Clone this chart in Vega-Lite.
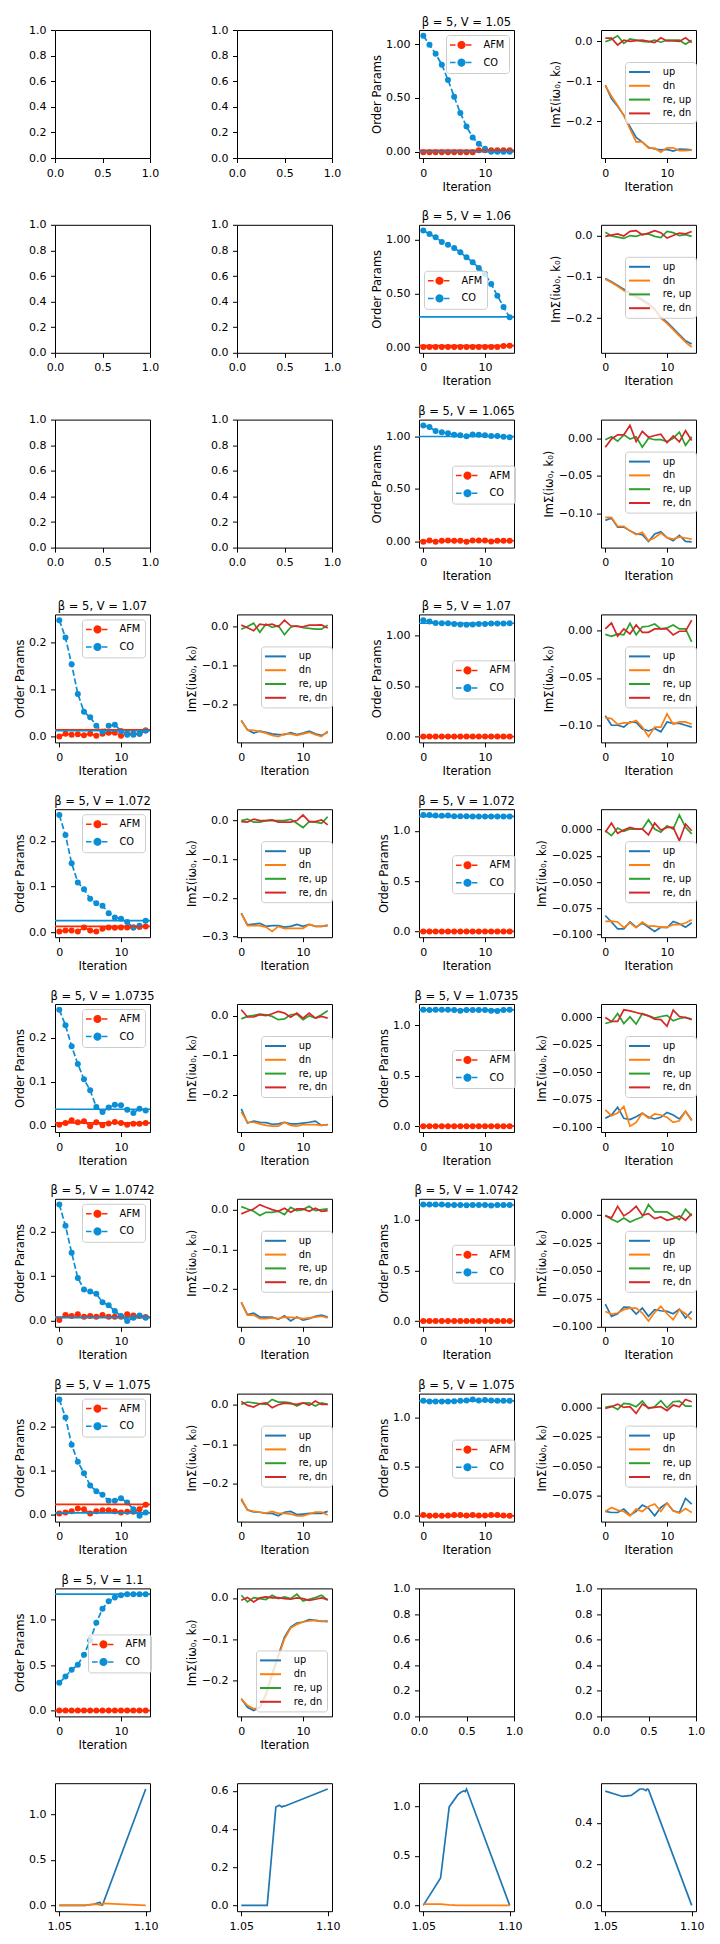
{
"$schema":"https://vega.github.io/schema/vega-lite/v6.json",
"padding":{"left":13,"top":16,"right":5,"bottom":5},
"columns":4,
"spacing":{"row":66.8,"column":87},
"bounds":"flush",
"resolve":{"scale":{"x":"independent","y":"independent","color":"independent"},"legend":{"color":"independent"}},
"config":{
"font":"DejaVu Sans",
"view":{"continuousWidth":95,"continuousHeight":128,"stroke":"#000000","strokeWidth":1},
"axis":{"domain":false,"grid":false,"tickColor":"#000","tickSize":4.5,"tickWidth":1,"labelColor":"#000","labelFont":"DejaVu Sans","labelFontSize":11,"labelPadding":4.5,"labelFlush":false,"labelOverlap":false,"titleColor":"#000","titleFont":"DejaVu Sans","titleFontSize":11.5,"titleFontWeight":"normal"},
"axisX":{"titlePadding":3},
"axisY":{"titlePadding":3.5},
"title":{"font":"DejaVu Sans","fontSize":11.5,"fontWeight":"normal","color":"#000","offset":2,"anchor":"middle"},
"legend":{"labelFont":"DejaVu Sans","labelFontSize":9.8,"labelColor":"#000","fillColor":"rgba(255,255,255,0.8)","strokeColor":"#cccccc","cornerRadius":3,"padding":4,"offset":5,"direction":"vertical","symbolType":"M-2.1,0H2.1","symbolSize":100,"symbolStrokeWidth":2,"symbolOffset":4.5,"labelOffset":17.3,"rowPadding":2.8}
},
"datasets":{
"e":[{"x":0,"y":0}],
"oh":[
{"p":"o0","s":"AFM","y":0.013},{"p":"o0","s":"CO","y":0},
{"p":"o1","s":"AFM","y":0.012},{"p":"o1","s":"CO","y":0.28},
{"p":"o2","s":"AFM","y":0.005},{"p":"o2","s":"CO","y":1.0},
{"p":"o3","s":"AFM","y":0.0145},{"p":"o3","s":"CO","y":0.0125},
{"p":"o4","s":"AFM","y":0},{"p":"o4","s":"CO","y":1.118},
{"p":"o5","s":"AFM","y":0.0124},{"p":"o5","s":"CO","y":0.025},
{"p":"o6","s":"AFM","y":0},{"p":"o6","s":"CO","y":1.145},
{"p":"o7","s":"AFM","y":0.006},{"p":"o7","s":"CO","y":0.037},
{"p":"o8","s":"AFM","y":0},{"p":"o8","s":"CO","y":1.155},
{"p":"o9","s":"AFM","y":0.0075},{"p":"o9","s":"CO","y":0.006},
{"p":"o10","s":"AFM","y":0},{"p":"o10","s":"CO","y":1.148},
{"p":"o11","s":"AFM","y":0.023},{"p":"o11","s":"CO","y":0.0035},
{"p":"o12","s":"AFM","y":0},{"p":"o12","s":"CO","y":1.175},
{"p":"o13","s":"AFM","y":0},{"p":"o13","s":"CO","y":1.28}
],
"op":[
{"p":"o0","s":"AFM","x":0,"y":-0.004},{"p":"o0","s":"AFM","x":1,"y":-0.004},{"p":"o0","s":"AFM","x":2,"y":-0.004},{"p":"o0","s":"AFM","x":3,"y":-0.004},{"p":"o0","s":"AFM","x":4,"y":-0.004},{"p":"o0","s":"AFM","x":5,"y":-0.004},{"p":"o0","s":"AFM","x":6,"y":-0.004},{"p":"o0","s":"AFM","x":7,"y":-0.004},{"p":"o0","s":"AFM","x":8,"y":-0.004},{"p":"o0","s":"AFM","x":9,"y":0.013},{"p":"o0","s":"AFM","x":10,"y":0.013},{"p":"o0","s":"AFM","x":11,"y":0.013},{"p":"o0","s":"AFM","x":12,"y":0.013},{"p":"o0","s":"AFM","x":13,"y":0.013},{"p":"o0","s":"AFM","x":14,"y":0.013},
{"p":"o0","s":"CO","x":0,"y":1.077},{"p":"o0","s":"CO","x":1,"y":0.994},{"p":"o0","s":"CO","x":2,"y":0.91},{"p":"o0","s":"CO","x":3,"y":0.809},{"p":"o0","s":"CO","x":4,"y":0.667},{"p":"o0","s":"CO","x":5,"y":0.512},{"p":"o0","s":"CO","x":6,"y":0.361},{"p":"o0","s":"CO","x":7,"y":0.235},{"p":"o0","s":"CO","x":8,"y":0.133},{"p":"o0","s":"CO","x":9,"y":0.074},{"p":"o0","s":"CO","x":10,"y":0.028},{"p":"o0","s":"CO","x":11,"y":0},{"p":"o0","s":"CO","x":12,"y":0},{"p":"o0","s":"CO","x":13,"y":0},{"p":"o0","s":"CO","x":14,"y":0},
{"p":"o1","s":"AFM","x":0,"y":0},{"p":"o1","s":"AFM","x":1,"y":0},{"p":"o1","s":"AFM","x":2,"y":0},{"p":"o1","s":"AFM","x":3,"y":0},{"p":"o1","s":"AFM","x":4,"y":0},{"p":"o1","s":"AFM","x":5,"y":0},{"p":"o1","s":"AFM","x":6,"y":0},{"p":"o1","s":"AFM","x":7,"y":0},{"p":"o1","s":"AFM","x":8,"y":0},{"p":"o1","s":"AFM","x":9,"y":0},{"p":"o1","s":"AFM","x":10,"y":0},{"p":"o1","s":"AFM","x":11,"y":0},{"p":"o1","s":"AFM","x":12,"y":0},{"p":"o1","s":"AFM","x":13,"y":0.01},{"p":"o1","s":"AFM","x":14,"y":0.012},
{"p":"o1","s":"CO","x":0,"y":1.084},{"p":"o1","s":"CO","x":1,"y":1.053},{"p":"o1","s":"CO","x":2,"y":1.022},{"p":"o1","s":"CO","x":3,"y":0.978},{"p":"o1","s":"CO","x":4,"y":0.953},{"p":"o1","s":"CO","x":5,"y":0.922},{"p":"o1","s":"CO","x":6,"y":0.882},{"p":"o1","s":"CO","x":7,"y":0.835},{"p":"o1","s":"CO","x":8,"y":0.789},{"p":"o1","s":"CO","x":9,"y":0.736},{"p":"o1","s":"CO","x":10,"y":0.68},{"p":"o1","s":"CO","x":11,"y":0.587},{"p":"o1","s":"CO","x":12,"y":0.478},{"p":"o1","s":"CO","x":13,"y":0.373},{"p":"o1","s":"CO","x":14,"y":0.276},
{"p":"o2","s":"AFM","x":0,"y":-0.005},{"p":"o2","s":"AFM","x":1,"y":0.008},{"p":"o2","s":"AFM","x":2,"y":-0.005},{"p":"o2","s":"AFM","x":3,"y":0.004},{"p":"o2","s":"AFM","x":4,"y":0.008},{"p":"o2","s":"AFM","x":5,"y":0.006},{"p":"o2","s":"AFM","x":6,"y":0.005},{"p":"o2","s":"AFM","x":7,"y":-0.004},{"p":"o2","s":"AFM","x":8,"y":0.007},{"p":"o2","s":"AFM","x":9,"y":0.008},{"p":"o2","s":"AFM","x":10,"y":0.007},{"p":"o2","s":"AFM","x":11,"y":-0.003},{"p":"o2","s":"AFM","x":12,"y":0.004},{"p":"o2","s":"AFM","x":13,"y":0.006},{"p":"o2","s":"AFM","x":14,"y":0.005},
{"p":"o2","s":"CO","x":0,"y":1.106},{"p":"o2","s":"CO","x":1,"y":1.09},{"p":"o2","s":"CO","x":2,"y":1.053},{"p":"o2","s":"CO","x":3,"y":1.04},{"p":"o2","s":"CO","x":4,"y":1.031},{"p":"o2","s":"CO","x":5,"y":1.016},{"p":"o2","s":"CO","x":6,"y":1.013},{"p":"o2","s":"CO","x":7,"y":1.003},{"p":"o2","s":"CO","x":8,"y":1.019},{"p":"o2","s":"CO","x":9,"y":1.016},{"p":"o2","s":"CO","x":10,"y":1.013},{"p":"o2","s":"CO","x":11,"y":1.006},{"p":"o2","s":"CO","x":12,"y":1.006},{"p":"o2","s":"CO","x":13,"y":0.997},{"p":"o2","s":"CO","x":14,"y":0.994},
{"p":"o3","s":"AFM","x":0,"y":0},{"p":"o3","s":"AFM","x":1,"y":0.006},{"p":"o3","s":"AFM","x":2,"y":0.004},{"p":"o3","s":"AFM","x":3,"y":0.005},{"p":"o3","s":"AFM","x":4,"y":0.003},{"p":"o3","s":"AFM","x":5,"y":0.006},{"p":"o3","s":"AFM","x":6,"y":0.002},{"p":"o3","s":"AFM","x":7,"y":0.006},{"p":"o3","s":"AFM","x":8,"y":0.008},{"p":"o3","s":"AFM","x":9,"y":0.008},{"p":"o3","s":"AFM","x":10,"y":0.002},{"p":"o3","s":"AFM","x":11,"y":0.006},{"p":"o3","s":"AFM","x":12,"y":0.006},{"p":"o3","s":"AFM","x":13,"y":0.006},{"p":"o3","s":"AFM","x":14,"y":0.013},
{"p":"o3","s":"CO","x":0,"y":0.248},{"p":"o3","s":"CO","x":1,"y":0.211},{"p":"o3","s":"CO","x":2,"y":0.154},{"p":"o3","s":"CO","x":3,"y":0.091},{"p":"o3","s":"CO","x":4,"y":0.053},{"p":"o3","s":"CO","x":5,"y":0.041},{"p":"o3","s":"CO","x":6,"y":0.023},{"p":"o3","s":"CO","x":7,"y":0.011},{"p":"o3","s":"CO","x":8,"y":0.023},{"p":"o3","s":"CO","x":9,"y":0.025},{"p":"o3","s":"CO","x":10,"y":0.012},{"p":"o3","s":"CO","x":11,"y":0.004},{"p":"o3","s":"CO","x":12,"y":0.004},{"p":"o3","s":"CO","x":13,"y":0.006},{"p":"o3","s":"CO","x":14,"y":0.013},
{"p":"o4","s":"AFM","x":0,"y":0},{"p":"o4","s":"AFM","x":1,"y":0},{"p":"o4","s":"AFM","x":2,"y":0},{"p":"o4","s":"AFM","x":3,"y":0},{"p":"o4","s":"AFM","x":4,"y":0},{"p":"o4","s":"AFM","x":5,"y":0},{"p":"o4","s":"AFM","x":6,"y":0},{"p":"o4","s":"AFM","x":7,"y":0},{"p":"o4","s":"AFM","x":8,"y":0},{"p":"o4","s":"AFM","x":9,"y":0},{"p":"o4","s":"AFM","x":10,"y":0},{"p":"o4","s":"AFM","x":11,"y":0},{"p":"o4","s":"AFM","x":12,"y":0},{"p":"o4","s":"AFM","x":13,"y":0},{"p":"o4","s":"AFM","x":14,"y":0},
{"p":"o4","s":"CO","x":0,"y":1.148},{"p":"o4","s":"CO","x":1,"y":1.134},{"p":"o4","s":"CO","x":2,"y":1.121},{"p":"o4","s":"CO","x":3,"y":1.118},{"p":"o4","s":"CO","x":4,"y":1.118},{"p":"o4","s":"CO","x":5,"y":1.111},{"p":"o4","s":"CO","x":6,"y":1.105},{"p":"o4","s":"CO","x":7,"y":1.102},{"p":"o4","s":"CO","x":8,"y":1.105},{"p":"o4","s":"CO","x":9,"y":1.111},{"p":"o4","s":"CO","x":10,"y":1.111},{"p":"o4","s":"CO","x":11,"y":1.115},{"p":"o4","s":"CO","x":12,"y":1.115},{"p":"o4","s":"CO","x":13,"y":1.115},{"p":"o4","s":"CO","x":14,"y":1.118},
{"p":"o5","s":"AFM","x":0,"y":0.0015},{"p":"o5","s":"AFM","x":1,"y":0.0036},{"p":"o5","s":"AFM","x":2,"y":0.0036},{"p":"o5","s":"AFM","x":3,"y":0.0015},{"p":"o5","s":"AFM","x":4,"y":0.01},{"p":"o5","s":"AFM","x":5,"y":0.0036},{"p":"o5","s":"AFM","x":6,"y":0.0015},{"p":"o5","s":"AFM","x":7,"y":0.0073},{"p":"o5","s":"AFM","x":8,"y":0.01},{"p":"o5","s":"AFM","x":9,"y":0.0095},{"p":"o5","s":"AFM","x":10,"y":0.01},{"p":"o5","s":"AFM","x":11,"y":0.01},{"p":"o5","s":"AFM","x":12,"y":0.01},{"p":"o5","s":"AFM","x":13,"y":0.011},{"p":"o5","s":"AFM","x":14,"y":0.0124},
{"p":"o5","s":"CO","x":0,"y":0.257},{"p":"o5","s":"CO","x":1,"y":0.213},{"p":"o5","s":"CO","x":2,"y":0.151},{"p":"o5","s":"CO","x":3,"y":0.109},{"p":"o5","s":"CO","x":4,"y":0.094},{"p":"o5","s":"CO","x":5,"y":0.073},{"p":"o5","s":"CO","x":6,"y":0.0635},{"p":"o5","s":"CO","x":7,"y":0.058},{"p":"o5","s":"CO","x":8,"y":0.0416},{"p":"o5","s":"CO","x":9,"y":0.032},{"p":"o5","s":"CO","x":10,"y":0.029},{"p":"o5","s":"CO","x":11,"y":0.022},{"p":"o5","s":"CO","x":12,"y":0.01},{"p":"o5","s":"CO","x":13,"y":0.014},{"p":"o5","s":"CO","x":14,"y":0.025},
{"p":"o6","s":"AFM","x":0,"y":0},{"p":"o6","s":"AFM","x":1,"y":0},{"p":"o6","s":"AFM","x":2,"y":0},{"p":"o6","s":"AFM","x":3,"y":0},{"p":"o6","s":"AFM","x":4,"y":0},{"p":"o6","s":"AFM","x":5,"y":0},{"p":"o6","s":"AFM","x":6,"y":0},{"p":"o6","s":"AFM","x":7,"y":0},{"p":"o6","s":"AFM","x":8,"y":0},{"p":"o6","s":"AFM","x":9,"y":0},{"p":"o6","s":"AFM","x":10,"y":0},{"p":"o6","s":"AFM","x":11,"y":0},{"p":"o6","s":"AFM","x":12,"y":0},{"p":"o6","s":"AFM","x":13,"y":0},{"p":"o6","s":"AFM","x":14,"y":0},
{"p":"o6","s":"CO","x":0,"y":1.159},{"p":"o6","s":"CO","x":1,"y":1.159},{"p":"o6","s":"CO","x":2,"y":1.155},{"p":"o6","s":"CO","x":3,"y":1.152},{"p":"o6","s":"CO","x":4,"y":1.155},{"p":"o6","s":"CO","x":5,"y":1.146},{"p":"o6","s":"CO","x":6,"y":1.146},{"p":"o6","s":"CO","x":7,"y":1.146},{"p":"o6","s":"CO","x":8,"y":1.145},{"p":"o6","s":"CO","x":9,"y":1.145},{"p":"o6","s":"CO","x":10,"y":1.145},{"p":"o6","s":"CO","x":11,"y":1.145},{"p":"o6","s":"CO","x":12,"y":1.145},{"p":"o6","s":"CO","x":13,"y":1.145},{"p":"o6","s":"CO","x":14,"y":1.145},
{"p":"o7","s":"AFM","x":0,"y":0.002},{"p":"o7","s":"AFM","x":1,"y":0.006},{"p":"o7","s":"AFM","x":2,"y":0.012},{"p":"o7","s":"AFM","x":3,"y":0.0075},{"p":"o7","s":"AFM","x":4,"y":0.01},{"p":"o7","s":"AFM","x":5,"y":-0.0015},{"p":"o7","s":"AFM","x":6,"y":0.0075},{"p":"o7","s":"AFM","x":7,"y":0.0008},{"p":"o7","s":"AFM","x":8,"y":0.0045},{"p":"o7","s":"AFM","x":9,"y":0.008},{"p":"o7","s":"AFM","x":10,"y":0.006},{"p":"o7","s":"AFM","x":11,"y":0.002},{"p":"o7","s":"AFM","x":12,"y":0.0038},{"p":"o7","s":"AFM","x":13,"y":0.0038},{"p":"o7","s":"AFM","x":14,"y":0.006},
{"p":"o7","s":"CO","x":0,"y":0.263},{"p":"o7","s":"CO","x":1,"y":0.228},{"p":"o7","s":"CO","x":2,"y":0.18},{"p":"o7","s":"CO","x":3,"y":0.14},{"p":"o7","s":"CO","x":4,"y":0.105},{"p":"o7","s":"CO","x":5,"y":0.08},{"p":"o7","s":"CO","x":6,"y":0.042},{"p":"o7","s":"CO","x":7,"y":0.031},{"p":"o7","s":"CO","x":8,"y":0.041},{"p":"o7","s":"CO","x":9,"y":0.047},{"p":"o7","s":"CO","x":10,"y":0.046},{"p":"o7","s":"CO","x":11,"y":0.036},{"p":"o7","s":"CO","x":12,"y":0.0286},{"p":"o7","s":"CO","x":13,"y":0.038},{"p":"o7","s":"CO","x":14,"y":0.034},
{"p":"o8","s":"AFM","x":0,"y":0},{"p":"o8","s":"AFM","x":1,"y":0},{"p":"o8","s":"AFM","x":2,"y":0},{"p":"o8","s":"AFM","x":3,"y":0},{"p":"o8","s":"AFM","x":4,"y":0},{"p":"o8","s":"AFM","x":5,"y":0},{"p":"o8","s":"AFM","x":6,"y":0},{"p":"o8","s":"AFM","x":7,"y":0},{"p":"o8","s":"AFM","x":8,"y":0},{"p":"o8","s":"AFM","x":9,"y":0},{"p":"o8","s":"AFM","x":10,"y":0},{"p":"o8","s":"AFM","x":11,"y":0},{"p":"o8","s":"AFM","x":12,"y":0},{"p":"o8","s":"AFM","x":13,"y":0},{"p":"o8","s":"AFM","x":14,"y":0},
{"p":"o8","s":"CO","x":0,"y":1.155},{"p":"o8","s":"CO","x":1,"y":1.152},{"p":"o8","s":"CO","x":2,"y":1.155},{"p":"o8","s":"CO","x":3,"y":1.155},{"p":"o8","s":"CO","x":4,"y":1.155},{"p":"o8","s":"CO","x":5,"y":1.152},{"p":"o8","s":"CO","x":6,"y":1.145},{"p":"o8","s":"CO","x":7,"y":1.152},{"p":"o8","s":"CO","x":8,"y":1.152},{"p":"o8","s":"CO","x":9,"y":1.152},{"p":"o8","s":"CO","x":10,"y":1.152},{"p":"o8","s":"CO","x":11,"y":1.145},{"p":"o8","s":"CO","x":12,"y":1.142},{"p":"o8","s":"CO","x":13,"y":1.152},{"p":"o8","s":"CO","x":14,"y":1.155},
{"p":"o9","s":"AFM","x":0,"y":0.001},{"p":"o9","s":"AFM","x":1,"y":0.012},{"p":"o9","s":"AFM","x":2,"y":0.01},{"p":"o9","s":"AFM","x":3,"y":0.0135},{"p":"o9","s":"AFM","x":4,"y":0.008},{"p":"o9","s":"AFM","x":5,"y":0.01},{"p":"o9","s":"AFM","x":6,"y":0.008},{"p":"o9","s":"AFM","x":7,"y":0.012},{"p":"o9","s":"AFM","x":8,"y":0.008},{"p":"o9","s":"AFM","x":9,"y":0.008},{"p":"o9","s":"AFM","x":10,"y":0.008},{"p":"o9","s":"AFM","x":11,"y":0.0135},{"p":"o9","s":"AFM","x":12,"y":0.011},{"p":"o9","s":"AFM","x":13,"y":0.01},{"p":"o9","s":"AFM","x":14,"y":0.0075},
{"p":"o9","s":"CO","x":0,"y":0.262},{"p":"o9","s":"CO","x":1,"y":0.214},{"p":"o9","s":"CO","x":2,"y":0.153},{"p":"o9","s":"CO","x":3,"y":0.096},{"p":"o9","s":"CO","x":4,"y":0.07},{"p":"o9","s":"CO","x":5,"y":0.065},{"p":"o9","s":"CO","x":6,"y":0.06},{"p":"o9","s":"CO","x":7,"y":0.041},{"p":"o9","s":"CO","x":8,"y":0.034},{"p":"o9","s":"CO","x":9,"y":0.021},{"p":"o9","s":"CO","x":10,"y":0.01},{"p":"o9","s":"CO","x":11,"y":-0.0015},{"p":"o9","s":"CO","x":12,"y":0.006},{"p":"o9","s":"CO","x":13,"y":0.011},{"p":"o9","s":"CO","x":14,"y":0.006},
{"p":"o10","s":"AFM","x":0,"y":0},{"p":"o10","s":"AFM","x":1,"y":0},{"p":"o10","s":"AFM","x":2,"y":0},{"p":"o10","s":"AFM","x":3,"y":0},{"p":"o10","s":"AFM","x":4,"y":0},{"p":"o10","s":"AFM","x":5,"y":0},{"p":"o10","s":"AFM","x":6,"y":0},{"p":"o10","s":"AFM","x":7,"y":0},{"p":"o10","s":"AFM","x":8,"y":0},{"p":"o10","s":"AFM","x":9,"y":0},{"p":"o10","s":"AFM","x":10,"y":0},{"p":"o10","s":"AFM","x":11,"y":0},{"p":"o10","s":"AFM","x":12,"y":0},{"p":"o10","s":"AFM","x":13,"y":0},{"p":"o10","s":"AFM","x":14,"y":0},
{"p":"o10","s":"CO","x":0,"y":1.152},{"p":"o10","s":"CO","x":1,"y":1.152},{"p":"o10","s":"CO","x":2,"y":1.152},{"p":"o10","s":"CO","x":3,"y":1.152},{"p":"o10","s":"CO","x":4,"y":1.148},{"p":"o10","s":"CO","x":5,"y":1.148},{"p":"o10","s":"CO","x":6,"y":1.148},{"p":"o10","s":"CO","x":7,"y":1.145},{"p":"o10","s":"CO","x":8,"y":1.148},{"p":"o10","s":"CO","x":9,"y":1.148},{"p":"o10","s":"CO","x":10,"y":1.148},{"p":"o10","s":"CO","x":11,"y":1.142},{"p":"o10","s":"CO","x":12,"y":1.148},{"p":"o10","s":"CO","x":13,"y":1.148},{"p":"o10","s":"CO","x":14,"y":1.148},
{"p":"o11","s":"AFM","x":0,"y":0.002},{"p":"o11","s":"AFM","x":1,"y":0.0045},{"p":"o11","s":"AFM","x":2,"y":0.0075},{"p":"o11","s":"AFM","x":3,"y":0.0134},{"p":"o11","s":"AFM","x":4,"y":0.012},{"p":"o11","s":"AFM","x":5,"y":0.002},{"p":"o11","s":"AFM","x":6,"y":0.0075},{"p":"o11","s":"AFM","x":7,"y":0.0097},{"p":"o11","s":"AFM","x":8,"y":0.0097},{"p":"o11","s":"AFM","x":9,"y":0.0075},{"p":"o11","s":"AFM","x":10,"y":0.0045},{"p":"o11","s":"AFM","x":11,"y":0.006},{"p":"o11","s":"AFM","x":12,"y":0.006},{"p":"o11","s":"AFM","x":13,"y":0.012},{"p":"o11","s":"AFM","x":14,"y":0.0224},
{"p":"o11","s":"CO","x":0,"y":0.262},{"p":"o11","s":"CO","x":1,"y":0.221},{"p":"o11","s":"CO","x":2,"y":0.159},{"p":"o11","s":"CO","x":3,"y":0.12},{"p":"o11","s":"CO","x":4,"y":0.094},{"p":"o11","s":"CO","x":5,"y":0.066},{"p":"o11","s":"CO","x":6,"y":0.053},{"p":"o11","s":"CO","x":7,"y":0.045},{"p":"o11","s":"CO","x":8,"y":0.031},{"p":"o11","s":"CO","x":9,"y":0.031},{"p":"o11","s":"CO","x":10,"y":0.037},{"p":"o11","s":"CO","x":11,"y":0.027},{"p":"o11","s":"CO","x":12,"y":0.012},{"p":"o11","s":"CO","x":13,"y":-0.003},{"p":"o11","s":"CO","x":14,"y":0.0045},
{"p":"o12","s":"AFM","x":0,"y":0.007},{"p":"o12","s":"AFM","x":1,"y":0},{"p":"o12","s":"AFM","x":2,"y":0.002},{"p":"o12","s":"AFM","x":3,"y":0},{"p":"o12","s":"AFM","x":4,"y":0.002},{"p":"o12","s":"AFM","x":5,"y":0.007},{"p":"o12","s":"AFM","x":6,"y":0.007},{"p":"o12","s":"AFM","x":7,"y":0.002},{"p":"o12","s":"AFM","x":8,"y":0.007},{"p":"o12","s":"AFM","x":9,"y":0.002},{"p":"o12","s":"AFM","x":10,"y":0.002},{"p":"o12","s":"AFM","x":11,"y":0.007},{"p":"o12","s":"AFM","x":12,"y":0.007},{"p":"o12","s":"AFM","x":13,"y":0.002},{"p":"o12","s":"AFM","x":14,"y":0},
{"p":"o12","s":"CO","x":0,"y":1.175},{"p":"o12","s":"CO","x":1,"y":1.168},{"p":"o12","s":"CO","x":2,"y":1.168},{"p":"o12","s":"CO","x":3,"y":1.168},{"p":"o12","s":"CO","x":4,"y":1.168},{"p":"o12","s":"CO","x":5,"y":1.172},{"p":"o12","s":"CO","x":6,"y":1.175},{"p":"o12","s":"CO","x":7,"y":1.178},{"p":"o12","s":"CO","x":8,"y":1.19},{"p":"o12","s":"CO","x":9,"y":1.178},{"p":"o12","s":"CO","x":10,"y":1.185},{"p":"o12","s":"CO","x":11,"y":1.178},{"p":"o12","s":"CO","x":12,"y":1.175},{"p":"o12","s":"CO","x":13,"y":1.175},{"p":"o12","s":"CO","x":14,"y":1.175},
{"p":"o13","s":"AFM","x":0,"y":0},{"p":"o13","s":"AFM","x":1,"y":0},{"p":"o13","s":"AFM","x":2,"y":0},{"p":"o13","s":"AFM","x":3,"y":0},{"p":"o13","s":"AFM","x":4,"y":0},{"p":"o13","s":"AFM","x":5,"y":0},{"p":"o13","s":"AFM","x":6,"y":0},{"p":"o13","s":"AFM","x":7,"y":0},{"p":"o13","s":"AFM","x":8,"y":0},{"p":"o13","s":"AFM","x":9,"y":0},{"p":"o13","s":"AFM","x":10,"y":0},{"p":"o13","s":"AFM","x":11,"y":0},{"p":"o13","s":"AFM","x":12,"y":0},{"p":"o13","s":"AFM","x":13,"y":0},{"p":"o13","s":"AFM","x":14,"y":0},
{"p":"o13","s":"CO","x":0,"y":0.305},{"p":"o13","s":"CO","x":1,"y":0.375},{"p":"o13","s":"CO","x":2,"y":0.449},{"p":"o13","s":"CO","x":3,"y":0.504},{"p":"o13","s":"CO","x":4,"y":0.614},{"p":"o13","s":"CO","x":5,"y":0.772},{"p":"o13","s":"CO","x":6,"y":0.967},{"p":"o13","s":"CO","x":7,"y":1.121},{"p":"o13","s":"CO","x":8,"y":1.202},{"p":"o13","s":"CO","x":9,"y":1.243},{"p":"o13","s":"CO","x":10,"y":1.268},{"p":"o13","s":"CO","x":11,"y":1.279},{"p":"o13","s":"CO","x":12,"y":1.279},{"p":"o13","s":"CO","x":13,"y":1.279},{"p":"o13","s":"CO","x":14,"y":1.279}
],
"im":[
{"p":"i0","s":"up","x":0,"y":-0.1096},{"p":"i0","s":"up","x":1,"y":-0.143},{"p":"i0","s":"up","x":2,"y":-0.162},{"p":"i0","s":"up","x":3,"y":-0.185},{"p":"i0","s":"up","x":4,"y":-0.213},{"p":"i0","s":"up","x":5,"y":-0.24},{"p":"i0","s":"up","x":6,"y":-0.252},{"p":"i0","s":"up","x":7,"y":-0.265},{"p":"i0","s":"up","x":8,"y":-0.269},{"p":"i0","s":"up","x":9,"y":-0.271},{"p":"i0","s":"up","x":10,"y":-0.27},{"p":"i0","s":"up","x":11,"y":-0.274},{"p":"i0","s":"up","x":12,"y":-0.269},{"p":"i0","s":"up","x":13,"y":-0.27},{"p":"i0","s":"up","x":14,"y":-0.271},
{"p":"i0","s":"dn","x":0,"y":-0.11},{"p":"i0","s":"dn","x":1,"y":-0.137},{"p":"i0","s":"dn","x":2,"y":-0.16},{"p":"i0","s":"dn","x":3,"y":-0.185},{"p":"i0","s":"dn","x":4,"y":-0.219},{"p":"i0","s":"dn","x":5,"y":-0.251},{"p":"i0","s":"dn","x":6,"y":-0.251},{"p":"i0","s":"dn","x":7,"y":-0.267},{"p":"i0","s":"dn","x":8,"y":-0.267},{"p":"i0","s":"dn","x":9,"y":-0.277},{"p":"i0","s":"dn","x":10,"y":-0.266},{"p":"i0","s":"dn","x":11,"y":-0.266},{"p":"i0","s":"dn","x":12,"y":-0.273},{"p":"i0","s":"dn","x":13,"y":-0.273},{"p":"i0","s":"dn","x":14,"y":-0.272},
{"p":"i0","s":"re, up","x":0,"y":-0.001},{"p":"i0","s":"re, up","x":1,"y":0.005},{"p":"i0","s":"re, up","x":2,"y":0.014},{"p":"i0","s":"re, up","x":3,"y":-0.005},{"p":"i0","s":"re, up","x":4,"y":0.006},{"p":"i0","s":"re, up","x":5,"y":0.003},{"p":"i0","s":"re, up","x":6,"y":0},{"p":"i0","s":"re, up","x":7,"y":-0.001},{"p":"i0","s":"re, up","x":8,"y":0.003},{"p":"i0","s":"re, up","x":9,"y":-0.002},{"p":"i0","s":"re, up","x":10,"y":0.003},{"p":"i0","s":"re, up","x":11,"y":0.003},{"p":"i0","s":"re, up","x":12,"y":0.003},{"p":"i0","s":"re, up","x":13,"y":-0.007},{"p":"i0","s":"re, up","x":14,"y":0.003},
{"p":"i0","s":"re, dn","x":0,"y":0.008},{"p":"i0","s":"re, dn","x":1,"y":0.008},{"p":"i0","s":"re, dn","x":2,"y":-0.009},{"p":"i0","s":"re, dn","x":3,"y":0.003},{"p":"i0","s":"re, dn","x":4,"y":0},{"p":"i0","s":"re, dn","x":5,"y":0.002},{"p":"i0","s":"re, dn","x":6,"y":0.003},{"p":"i0","s":"re, dn","x":7,"y":0},{"p":"i0","s":"re, dn","x":8,"y":-0.003},{"p":"i0","s":"re, dn","x":9,"y":0.009},{"p":"i0","s":"re, dn","x":10,"y":0.001},{"p":"i0","s":"re, dn","x":11,"y":0.001},{"p":"i0","s":"re, dn","x":12,"y":0},{"p":"i0","s":"re, dn","x":13,"y":0.009},{"p":"i0","s":"re, dn","x":14,"y":-0.003},
{"p":"i1","s":"up","x":0,"y":-0.104},{"p":"i1","s":"up","x":1,"y":-0.112},{"p":"i1","s":"up","x":2,"y":-0.121},{"p":"i1","s":"up","x":3,"y":-0.13},{"p":"i1","s":"up","x":4,"y":-0.139},{"p":"i1","s":"up","x":5,"y":-0.147},{"p":"i1","s":"up","x":6,"y":-0.155},{"p":"i1","s":"up","x":7,"y":-0.165},{"p":"i1","s":"up","x":8,"y":-0.178},{"p":"i1","s":"up","x":9,"y":-0.198},{"p":"i1","s":"up","x":10,"y":-0.21},{"p":"i1","s":"up","x":11,"y":-0.225},{"p":"i1","s":"up","x":12,"y":-0.24},{"p":"i1","s":"up","x":13,"y":-0.255},{"p":"i1","s":"up","x":14,"y":-0.263},
{"p":"i1","s":"dn","x":0,"y":-0.106},{"p":"i1","s":"dn","x":1,"y":-0.114},{"p":"i1","s":"dn","x":2,"y":-0.123},{"p":"i1","s":"dn","x":3,"y":-0.133},{"p":"i1","s":"dn","x":4,"y":-0.141},{"p":"i1","s":"dn","x":5,"y":-0.149},{"p":"i1","s":"dn","x":6,"y":-0.158},{"p":"i1","s":"dn","x":7,"y":-0.168},{"p":"i1","s":"dn","x":8,"y":-0.18},{"p":"i1","s":"dn","x":9,"y":-0.2},{"p":"i1","s":"dn","x":10,"y":-0.213},{"p":"i1","s":"dn","x":11,"y":-0.228},{"p":"i1","s":"dn","x":12,"y":-0.243},{"p":"i1","s":"dn","x":13,"y":-0.258},{"p":"i1","s":"dn","x":14,"y":-0.27},
{"p":"i1","s":"re, up","x":0,"y":0.008},{"p":"i1","s":"re, up","x":1,"y":-0.001},{"p":"i1","s":"re, up","x":2,"y":-0.004},{"p":"i1","s":"re, up","x":3,"y":-0.007},{"p":"i1","s":"re, up","x":4,"y":0},{"p":"i1","s":"re, up","x":5,"y":-0.002},{"p":"i1","s":"re, up","x":6,"y":0.003},{"p":"i1","s":"re, up","x":7,"y":0.004},{"p":"i1","s":"re, up","x":8,"y":-0.002},{"p":"i1","s":"re, up","x":9,"y":-0.005},{"p":"i1","s":"re, up","x":10,"y":0.01},{"p":"i1","s":"re, up","x":11,"y":0.007},{"p":"i1","s":"re, up","x":12,"y":0},{"p":"i1","s":"re, up","x":13,"y":0.002},{"p":"i1","s":"re, up","x":14,"y":-0.002},
{"p":"i1","s":"re, dn","x":0,"y":-0.002},{"p":"i1","s":"re, dn","x":1,"y":0.001},{"p":"i1","s":"re, dn","x":2,"y":0.004},{"p":"i1","s":"re, dn","x":3,"y":-0.001},{"p":"i1","s":"re, dn","x":4,"y":0.01},{"p":"i1","s":"re, dn","x":5,"y":0.012},{"p":"i1","s":"re, dn","x":6,"y":0.002},{"p":"i1","s":"re, dn","x":7,"y":0.006},{"p":"i1","s":"re, dn","x":8,"y":0.012},{"p":"i1","s":"re, dn","x":9,"y":0.007},{"p":"i1","s":"re, dn","x":10,"y":-0.006},{"p":"i1","s":"re, dn","x":11,"y":0},{"p":"i1","s":"re, dn","x":12,"y":0.006},{"p":"i1","s":"re, dn","x":13,"y":0.004},{"p":"i1","s":"re, dn","x":14,"y":0.01},
{"p":"i2","s":"up","x":0,"y":-0.109},{"p":"i2","s":"up","x":1,"y":-0.106},{"p":"i2","s":"up","x":2,"y":-0.118},{"p":"i2","s":"up","x":3,"y":-0.118},{"p":"i2","s":"up","x":4,"y":-0.123},{"p":"i2","s":"up","x":5,"y":-0.127},{"p":"i2","s":"up","x":6,"y":-0.128},{"p":"i2","s":"up","x":7,"y":-0.137},{"p":"i2","s":"up","x":8,"y":-0.127},{"p":"i2","s":"up","x":9,"y":-0.124},{"p":"i2","s":"up","x":10,"y":-0.132},{"p":"i2","s":"up","x":11,"y":-0.136},{"p":"i2","s":"up","x":12,"y":-0.129},{"p":"i2","s":"up","x":13,"y":-0.137},{"p":"i2","s":"up","x":14,"y":-0.1375},
{"p":"i2","s":"dn","x":0,"y":-0.105},{"p":"i2","s":"dn","x":1,"y":-0.105},{"p":"i2","s":"dn","x":2,"y":-0.117},{"p":"i2","s":"dn","x":3,"y":-0.117},{"p":"i2","s":"dn","x":4,"y":-0.123},{"p":"i2","s":"dn","x":5,"y":-0.128},{"p":"i2","s":"dn","x":6,"y":-0.125},{"p":"i2","s":"dn","x":7,"y":-0.136},{"p":"i2","s":"dn","x":8,"y":-0.132},{"p":"i2","s":"dn","x":9,"y":-0.126},{"p":"i2","s":"dn","x":10,"y":-0.132},{"p":"i2","s":"dn","x":11,"y":-0.134},{"p":"i2","s":"dn","x":12,"y":-0.131},{"p":"i2","s":"dn","x":13,"y":-0.1325},{"p":"i2","s":"dn","x":14,"y":-0.134},
{"p":"i2","s":"re, up","x":0,"y":-0.002},{"p":"i2","s":"re, up","x":1,"y":0.002},{"p":"i2","s":"re, up","x":2,"y":-0.004},{"p":"i2","s":"re, up","x":3,"y":0.0045},{"p":"i2","s":"re, up","x":4,"y":-0.001},{"p":"i2","s":"re, up","x":5,"y":0.002},{"p":"i2","s":"re, up","x":6,"y":-0.012},{"p":"i2","s":"re, up","x":7,"y":0},{"p":"i2","s":"re, up","x":8,"y":-0.002},{"p":"i2","s":"re, up","x":9,"y":-0.002},{"p":"i2","s":"re, up","x":10,"y":-0.0045},{"p":"i2","s":"re, up","x":11,"y":0},{"p":"i2","s":"re, up","x":12,"y":0.008},{"p":"i2","s":"re, up","x":13,"y":-0.0095},{"p":"i2","s":"re, up","x":14,"y":0.002},
{"p":"i2","s":"re, dn","x":0,"y":-0.012},{"p":"i2","s":"re, dn","x":1,"y":-0.001},{"p":"i2","s":"re, dn","x":2,"y":0.0045},{"p":"i2","s":"re, dn","x":3,"y":0.0045},{"p":"i2","s":"re, dn","x":4,"y":0.017},{"p":"i2","s":"re, dn","x":5,"y":-0.0045},{"p":"i2","s":"re, dn","x":6,"y":0.009},{"p":"i2","s":"re, dn","x":7,"y":0.0013},{"p":"i2","s":"re, dn","x":8,"y":0.0036},{"p":"i2","s":"re, dn","x":9,"y":0.0054},{"p":"i2","s":"re, dn","x":10,"y":-0.006},{"p":"i2","s":"re, dn","x":11,"y":0.003},{"p":"i2","s":"re, dn","x":12,"y":-0.005},{"p":"i2","s":"re, dn","x":13,"y":0.01},{"p":"i2","s":"re, dn","x":14,"y":-0.003},
{"p":"i3","s":"up","x":0,"y":-0.241},{"p":"i3","s":"up","x":1,"y":-0.265},{"p":"i3","s":"up","x":2,"y":-0.273},{"p":"i3","s":"up","x":3,"y":-0.268},{"p":"i3","s":"up","x":4,"y":-0.271},{"p":"i3","s":"up","x":5,"y":-0.275},{"p":"i3","s":"up","x":6,"y":-0.277},{"p":"i3","s":"up","x":7,"y":-0.277},{"p":"i3","s":"up","x":8,"y":-0.272},{"p":"i3","s":"up","x":9,"y":-0.277},{"p":"i3","s":"up","x":10,"y":-0.273},{"p":"i3","s":"up","x":11,"y":-0.268},{"p":"i3","s":"up","x":12,"y":-0.275},{"p":"i3","s":"up","x":13,"y":-0.279},{"p":"i3","s":"up","x":14,"y":-0.271},
{"p":"i3","s":"dn","x":0,"y":-0.241},{"p":"i3","s":"dn","x":1,"y":-0.265},{"p":"i3","s":"dn","x":2,"y":-0.266},{"p":"i3","s":"dn","x":3,"y":-0.269},{"p":"i3","s":"dn","x":4,"y":-0.273},{"p":"i3","s":"dn","x":5,"y":-0.279},{"p":"i3","s":"dn","x":6,"y":-0.282},{"p":"i3","s":"dn","x":7,"y":-0.275},{"p":"i3","s":"dn","x":8,"y":-0.275},{"p":"i3","s":"dn","x":9,"y":-0.279},{"p":"i3","s":"dn","x":10,"y":-0.275},{"p":"i3","s":"dn","x":11,"y":-0.271},{"p":"i3","s":"dn","x":12,"y":-0.277},{"p":"i3","s":"dn","x":13,"y":-0.282},{"p":"i3","s":"dn","x":14,"y":-0.268},
{"p":"i3","s":"re, up","x":0,"y":-0.007},{"p":"i3","s":"re, up","x":1,"y":0},{"p":"i3","s":"re, up","x":2,"y":0.0085},{"p":"i3","s":"re, up","x":3,"y":-0.015},{"p":"i3","s":"re, up","x":4,"y":0.006},{"p":"i3","s":"re, up","x":5,"y":-0.0026},{"p":"i3","s":"re, up","x":6,"y":0.0017},{"p":"i3","s":"re, up","x":7,"y":-0.021},{"p":"i3","s":"re, up","x":8,"y":-0.002},{"p":"i3","s":"re, up","x":9,"y":0.0017},{"p":"i3","s":"re, up","x":10,"y":-0.0034},{"p":"i3","s":"re, up","x":11,"y":-0.005},{"p":"i3","s":"re, up","x":12,"y":-0.007},{"p":"i3","s":"re, up","x":13,"y":-0.007},{"p":"i3","s":"re, up","x":14,"y":0.0034},
{"p":"i3","s":"re, dn","x":0,"y":0.0034},{"p":"i3","s":"re, dn","x":1,"y":-0.0034},{"p":"i3","s":"re, dn","x":2,"y":-0.011},{"p":"i3","s":"re, dn","x":3,"y":0.006},{"p":"i3","s":"re, dn","x":4,"y":0.0034},{"p":"i3","s":"re, dn","x":5,"y":0.006},{"p":"i3","s":"re, dn","x":6,"y":-0.001},{"p":"i3","s":"re, dn","x":7,"y":0.016},{"p":"i3","s":"re, dn","x":8,"y":0.0017},{"p":"i3","s":"re, dn","x":9,"y":0},{"p":"i3","s":"re, dn","x":10,"y":-0.001},{"p":"i3","s":"re, dn","x":11,"y":0.0034},{"p":"i3","s":"re, dn","x":12,"y":0.0034},{"p":"i3","s":"re, dn","x":13,"y":0.004},{"p":"i3","s":"re, dn","x":14,"y":-0.004},
{"p":"i4","s":"up","x":0,"y":-0.09},{"p":"i4","s":"up","x":1,"y":-0.1},{"p":"i4","s":"up","x":2,"y":-0.1},{"p":"i4","s":"up","x":3,"y":-0.102},{"p":"i4","s":"up","x":4,"y":-0.0965},{"p":"i4","s":"up","x":5,"y":-0.097},{"p":"i4","s":"up","x":6,"y":-0.104},{"p":"i4","s":"up","x":7,"y":-0.106},{"p":"i4","s":"up","x":8,"y":-0.1035},{"p":"i4","s":"up","x":9,"y":-0.107},{"p":"i4","s":"up","x":10,"y":-0.0965},{"p":"i4","s":"up","x":11,"y":-0.098},{"p":"i4","s":"up","x":12,"y":-0.098},{"p":"i4","s":"up","x":13,"y":-0.1},{"p":"i4","s":"up","x":14,"y":-0.102},
{"p":"i4","s":"dn","x":0,"y":-0.092},{"p":"i4","s":"dn","x":1,"y":-0.093},{"p":"i4","s":"dn","x":2,"y":-0.099},{"p":"i4","s":"dn","x":3,"y":-0.0975},{"p":"i4","s":"dn","x":4,"y":-0.0975},{"p":"i4","s":"dn","x":5,"y":-0.095},{"p":"i4","s":"dn","x":6,"y":-0.102},{"p":"i4","s":"dn","x":7,"y":-0.112},{"p":"i4","s":"dn","x":8,"y":-0.102},{"p":"i4","s":"dn","x":9,"y":-0.102},{"p":"i4","s":"dn","x":10,"y":-0.088},{"p":"i4","s":"dn","x":11,"y":-0.099},{"p":"i4","s":"dn","x":12,"y":-0.0965},{"p":"i4","s":"dn","x":13,"y":-0.0965},{"p":"i4","s":"dn","x":14,"y":-0.099},
{"p":"i4","s":"re, up","x":0,"y":-0.004},{"p":"i4","s":"re, up","x":1,"y":-0.006},{"p":"i4","s":"re, up","x":2,"y":-0.0035},{"p":"i4","s":"re, up","x":3,"y":-0.0045},{"p":"i4","s":"re, up","x":4,"y":0.0077},{"p":"i4","s":"re, up","x":5,"y":-0.0045},{"p":"i4","s":"re, up","x":6,"y":0.004},{"p":"i4","s":"re, up","x":7,"y":0.0046},{"p":"i4","s":"re, up","x":8,"y":0.007},{"p":"i4","s":"re, up","x":9,"y":0.0018},{"p":"i4","s":"re, up","x":10,"y":0.0028},{"p":"i4","s":"re, up","x":11,"y":0.006},{"p":"i4","s":"re, up","x":12,"y":0.0018},{"p":"i4","s":"re, up","x":13,"y":0.0018},{"p":"i4","s":"re, up","x":14,"y":-0.012},
{"p":"i4","s":"re, dn","x":0,"y":0.0018},{"p":"i4","s":"re, dn","x":1,"y":0.008},{"p":"i4","s":"re, dn","x":2,"y":-0.006},{"p":"i4","s":"re, dn","x":3,"y":0.0018},{"p":"i4","s":"re, dn","x":4,"y":-0.0035},{"p":"i4","s":"re, dn","x":5,"y":0.006},{"p":"i4","s":"re, dn","x":6,"y":-0.0018},{"p":"i4","s":"re, dn","x":7,"y":-0.0018},{"p":"i4","s":"re, dn","x":8,"y":0.0018},{"p":"i4","s":"re, dn","x":9,"y":0.0018},{"p":"i4","s":"re, dn","x":10,"y":0.0018},{"p":"i4","s":"re, dn","x":11,"y":-0.0045},{"p":"i4","s":"re, dn","x":12,"y":-0.0007},{"p":"i4","s":"re, dn","x":13,"y":-0.0007},{"p":"i4","s":"re, dn","x":14,"y":0.011},
{"p":"i5","s":"up","x":0,"y":-0.24},{"p":"i5","s":"up","x":1,"y":-0.27},{"p":"i5","s":"up","x":2,"y":-0.268},{"p":"i5","s":"up","x":3,"y":-0.266},{"p":"i5","s":"up","x":4,"y":-0.274},{"p":"i5","s":"up","x":5,"y":-0.272},{"p":"i5","s":"up","x":6,"y":-0.272},{"p":"i5","s":"up","x":7,"y":-0.276},{"p":"i5","s":"up","x":8,"y":-0.274},{"p":"i5","s":"up","x":9,"y":-0.269},{"p":"i5","s":"up","x":10,"y":-0.274},{"p":"i5","s":"up","x":11,"y":-0.269},{"p":"i5","s":"up","x":12,"y":-0.274},{"p":"i5","s":"up","x":13,"y":-0.274},{"p":"i5","s":"up","x":14,"y":-0.272},
{"p":"i5","s":"dn","x":0,"y":-0.24},{"p":"i5","s":"dn","x":1,"y":-0.272},{"p":"i5","s":"dn","x":2,"y":-0.272},{"p":"i5","s":"dn","x":3,"y":-0.272},{"p":"i5","s":"dn","x":4,"y":-0.276},{"p":"i5","s":"dn","x":5,"y":-0.287},{"p":"i5","s":"dn","x":6,"y":-0.274},{"p":"i5","s":"dn","x":7,"y":-0.28},{"p":"i5","s":"dn","x":8,"y":-0.279},{"p":"i5","s":"dn","x":9,"y":-0.279},{"p":"i5","s":"dn","x":10,"y":-0.279},{"p":"i5","s":"dn","x":11,"y":-0.269},{"p":"i5","s":"dn","x":12,"y":-0.274},{"p":"i5","s":"dn","x":13,"y":-0.274},{"p":"i5","s":"dn","x":14,"y":-0.27},
{"p":"i5","s":"re, up","x":0,"y":0},{"p":"i5","s":"re, up","x":1,"y":0.004},{"p":"i5","s":"re, up","x":2,"y":-0.004},{"p":"i5","s":"re, up","x":3,"y":-0.004},{"p":"i5","s":"re, up","x":4,"y":0},{"p":"i5","s":"re, up","x":5,"y":0},{"p":"i5","s":"re, up","x":6,"y":0},{"p":"i5","s":"re, up","x":7,"y":0},{"p":"i5","s":"re, up","x":8,"y":0.0034},{"p":"i5","s":"re, up","x":9,"y":-0.007},{"p":"i5","s":"re, up","x":10,"y":-0.018},{"p":"i5","s":"re, up","x":11,"y":-0.0026},{"p":"i5","s":"re, up","x":12,"y":-0.004},{"p":"i5","s":"re, up","x":13,"y":-0.007},{"p":"i5","s":"re, up","x":14,"y":0.01},
{"p":"i5","s":"re, dn","x":0,"y":-0.0026},{"p":"i5","s":"re, dn","x":1,"y":-0.004},{"p":"i5","s":"re, dn","x":2,"y":0.004},{"p":"i5","s":"re, dn","x":3,"y":0},{"p":"i5","s":"re, dn","x":4,"y":0},{"p":"i5","s":"re, dn","x":5,"y":0.0017},{"p":"i5","s":"re, dn","x":6,"y":-0.004},{"p":"i5","s":"re, dn","x":7,"y":-0.004},{"p":"i5","s":"re, dn","x":8,"y":-0.004},{"p":"i5","s":"re, dn","x":9,"y":0},{"p":"i5","s":"re, dn","x":10,"y":0.0145},{"p":"i5","s":"re, dn","x":11,"y":-0.0026},{"p":"i5","s":"re, dn","x":12,"y":-0.0026},{"p":"i5","s":"re, dn","x":13,"y":0.0017},{"p":"i5","s":"re, dn","x":14,"y":-0.011},
{"p":"i6","s":"up","x":0,"y":-0.0818},{"p":"i6","s":"up","x":1,"y":-0.088},{"p":"i6","s":"up","x":2,"y":-0.0945},{"p":"i6","s":"up","x":3,"y":-0.0945},{"p":"i6","s":"up","x":4,"y":-0.088},{"p":"i6","s":"up","x":5,"y":-0.093},{"p":"i6","s":"up","x":6,"y":-0.089},{"p":"i6","s":"up","x":7,"y":-0.093},{"p":"i6","s":"up","x":8,"y":-0.097},{"p":"i6","s":"up","x":9,"y":-0.093},{"p":"i6","s":"up","x":10,"y":-0.0935},{"p":"i6","s":"up","x":11,"y":-0.0875},{"p":"i6","s":"up","x":12,"y":-0.0897},{"p":"i6","s":"up","x":13,"y":-0.093},{"p":"i6","s":"up","x":14,"y":-0.0888},
{"p":"i6","s":"dn","x":0,"y":-0.0875},{"p":"i6","s":"dn","x":1,"y":-0.0872},{"p":"i6","s":"dn","x":2,"y":-0.088},{"p":"i6","s":"dn","x":3,"y":-0.0935},{"p":"i6","s":"dn","x":4,"y":-0.0888},{"p":"i6","s":"dn","x":5,"y":-0.0935},{"p":"i6","s":"dn","x":6,"y":-0.088},{"p":"i6","s":"dn","x":7,"y":-0.092},{"p":"i6","s":"dn","x":8,"y":-0.092},{"p":"i6","s":"dn","x":9,"y":-0.093},{"p":"i6","s":"dn","x":10,"y":-0.093},{"p":"i6","s":"dn","x":11,"y":-0.0906},{"p":"i6","s":"dn","x":12,"y":-0.0906},{"p":"i6","s":"dn","x":13,"y":-0.089},{"p":"i6","s":"dn","x":14,"y":-0.086},
{"p":"i6","s":"re, up","x":0,"y":-0.001},{"p":"i6","s":"re, up","x":1,"y":-0.0057},{"p":"i6","s":"re, up","x":2,"y":0.0016},{"p":"i6","s":"re, up","x":3,"y":-0.0016},{"p":"i6","s":"re, up","x":4,"y":0.0006},{"p":"i6","s":"re, up","x":5,"y":0.0006},{"p":"i6","s":"re, up","x":6,"y":0.0006},{"p":"i6","s":"re, up","x":7,"y":0.0095},{"p":"i6","s":"re, up","x":8,"y":0.0006},{"p":"i6","s":"re, up","x":9,"y":-0.0025},{"p":"i6","s":"re, up","x":10,"y":0.0038},{"p":"i6","s":"re, up","x":11,"y":0.0006},{"p":"i6","s":"re, up","x":12,"y":0.014},{"p":"i6","s":"re, up","x":13,"y":0.0022},{"p":"i6","s":"re, up","x":14,"y":-0.004},
{"p":"i6","s":"re, dn","x":0,"y":-0.0025},{"p":"i6","s":"re, dn","x":1,"y":0.0063},{"p":"i6","s":"re, dn","x":2,"y":-0.0035},{"p":"i6","s":"re, dn","x":3,"y":-0.0003},{"p":"i6","s":"re, dn","x":4,"y":0.0022},{"p":"i6","s":"re, dn","x":5,"y":0.0006},{"p":"i6","s":"re, dn","x":6,"y":0.0006},{"p":"i6","s":"re, dn","x":7,"y":-0.005},{"p":"i6","s":"re, dn","x":8,"y":0.0063},{"p":"i6","s":"re, dn","x":9,"y":-0.0003},{"p":"i6","s":"re, dn","x":10,"y":0.0022},{"p":"i6","s":"re, dn","x":11,"y":0.0022},{"p":"i6","s":"re, dn","x":12,"y":-0.0105},{"p":"i6","s":"re, dn","x":13,"y":0.0054},{"p":"i6","s":"re, dn","x":14,"y":-0.001},
{"p":"i7","s":"up","x":0,"y":-0.236},{"p":"i7","s":"up","x":1,"y":-0.272},{"p":"i7","s":"up","x":2,"y":-0.267},{"p":"i7","s":"up","x":3,"y":-0.27},{"p":"i7","s":"up","x":4,"y":-0.271},{"p":"i7","s":"up","x":5,"y":-0.275},{"p":"i7","s":"up","x":6,"y":-0.274},{"p":"i7","s":"up","x":7,"y":-0.27},{"p":"i7","s":"up","x":8,"y":-0.274},{"p":"i7","s":"up","x":9,"y":-0.274},{"p":"i7","s":"up","x":10,"y":-0.272},{"p":"i7","s":"up","x":11,"y":-0.27},{"p":"i7","s":"up","x":12,"y":-0.267},{"p":"i7","s":"up","x":13,"y":-0.278},{"p":"i7","s":"up","x":14,"y":-0.276},
{"p":"i7","s":"dn","x":0,"y":-0.244},{"p":"i7","s":"dn","x":1,"y":-0.27},{"p":"i7","s":"dn","x":2,"y":-0.27},{"p":"i7","s":"dn","x":3,"y":-0.274},{"p":"i7","s":"dn","x":4,"y":-0.278},{"p":"i7","s":"dn","x":5,"y":-0.28},{"p":"i7","s":"dn","x":6,"y":-0.28},{"p":"i7","s":"dn","x":7,"y":-0.27},{"p":"i7","s":"dn","x":8,"y":-0.278},{"p":"i7","s":"dn","x":9,"y":-0.28},{"p":"i7","s":"dn","x":10,"y":-0.276},{"p":"i7","s":"dn","x":11,"y":-0.276},{"p":"i7","s":"dn","x":12,"y":-0.276},{"p":"i7","s":"dn","x":13,"y":-0.278},{"p":"i7","s":"dn","x":14,"y":-0.276},
{"p":"i7","s":"re, up","x":0,"y":-0.008},{"p":"i7","s":"re, up","x":1,"y":-0.0017},{"p":"i7","s":"re, up","x":2,"y":0.0008},{"p":"i7","s":"re, up","x":3,"y":0.004},{"p":"i7","s":"re, up","x":4,"y":0.0025},{"p":"i7","s":"re, up","x":5,"y":-0.0017},{"p":"i7","s":"re, up","x":6,"y":-0.01},{"p":"i7","s":"re, up","x":7,"y":-0.008},{"p":"i7","s":"re, up","x":8,"y":0.0025},{"p":"i7","s":"re, up","x":9,"y":0.004},{"p":"i7","s":"re, up","x":10,"y":-0.01},{"p":"i7","s":"re, up","x":11,"y":0},{"p":"i7","s":"re, up","x":12,"y":-0.006},{"p":"i7","s":"re, up","x":13,"y":0.0025},{"p":"i7","s":"re, up","x":14,"y":0.0125},
{"p":"i7","s":"re, dn","x":0,"y":0.015},{"p":"i7","s":"re, dn","x":1,"y":-0.0033},{"p":"i7","s":"re, dn","x":2,"y":-0.0033},{"p":"i7","s":"re, dn","x":3,"y":0.0025},{"p":"i7","s":"re, dn","x":4,"y":0},{"p":"i7","s":"re, dn","x":5,"y":0.005},{"p":"i7","s":"re, dn","x":6,"y":0.011},{"p":"i7","s":"re, dn","x":7,"y":0.0067},{"p":"i7","s":"re, dn","x":8,"y":-0.004},{"p":"i7","s":"re, dn","x":9,"y":0.0067},{"p":"i7","s":"re, dn","x":10,"y":-0.006},{"p":"i7","s":"re, dn","x":11,"y":0.0067},{"p":"i7","s":"re, dn","x":12,"y":-0.006},{"p":"i7","s":"re, dn","x":13,"y":-0.0017},{"p":"i7","s":"re, dn","x":14,"y":-0.006},
{"p":"i8","s":"up","x":0,"y":-0.0918},{"p":"i8","s":"up","x":1,"y":-0.0888},{"p":"i8","s":"up","x":2,"y":-0.0818},{"p":"i8","s":"up","x":3,"y":-0.0918},{"p":"i8","s":"up","x":4,"y":-0.093},{"p":"i8","s":"up","x":5,"y":-0.0903},{"p":"i8","s":"up","x":6,"y":-0.0873},{"p":"i8","s":"up","x":7,"y":-0.0909},{"p":"i8","s":"up","x":8,"y":-0.0924},{"p":"i8","s":"up","x":9,"y":-0.0909},{"p":"i8","s":"up","x":10,"y":-0.0864},{"p":"i8","s":"up","x":11,"y":-0.0888},{"p":"i8","s":"up","x":12,"y":-0.0924},{"p":"i8","s":"up","x":13,"y":-0.0855},{"p":"i8","s":"up","x":14,"y":-0.0933},
{"p":"i8","s":"dn","x":0,"y":-0.0842},{"p":"i8","s":"dn","x":1,"y":-0.0894},{"p":"i8","s":"dn","x":2,"y":-0.087},{"p":"i8","s":"dn","x":3,"y":-0.0809},{"p":"i8","s":"dn","x":4,"y":-0.099},{"p":"i8","s":"dn","x":5,"y":-0.0955},{"p":"i8","s":"dn","x":6,"y":-0.087},{"p":"i8","s":"dn","x":7,"y":-0.0918},{"p":"i8","s":"dn","x":8,"y":-0.0879},{"p":"i8","s":"dn","x":9,"y":-0.0888},{"p":"i8","s":"dn","x":10,"y":-0.0909},{"p":"i8","s":"dn","x":11,"y":-0.0955},{"p":"i8","s":"dn","x":12,"y":-0.094},{"p":"i8","s":"dn","x":13,"y":-0.0855},{"p":"i8","s":"dn","x":14,"y":-0.094},
{"p":"i8","s":"re, up","x":0,"y":-0.0055},{"p":"i8","s":"re, up","x":1,"y":-0.004},{"p":"i8","s":"re, up","x":2,"y":0.0036},{"p":"i8","s":"re, up","x":3,"y":-0.0055},{"p":"i8","s":"re, up","x":4,"y":0.0006},{"p":"i8","s":"re, up","x":5,"y":-0.006},{"p":"i8","s":"re, up","x":6,"y":0.0036},{"p":"i8","s":"re, up","x":7,"y":0.0015},{"p":"i8","s":"re, up","x":8,"y":-0.0006},{"p":"i8","s":"re, up","x":9,"y":0.0009},{"p":"i8","s":"re, up","x":10,"y":0.002},{"p":"i8","s":"re, up","x":11,"y":-0.003},{"p":"i8","s":"re, up","x":12,"y":-0.0009},{"p":"i8","s":"re, up","x":13,"y":0},{"p":"i8","s":"re, up","x":14,"y":-0.0015},
{"p":"i8","s":"re, dn","x":0,"y":0},{"p":"i8","s":"re, dn","x":1,"y":-0.0036},{"p":"i8","s":"re, dn","x":2,"y":-0.0036},{"p":"i8","s":"re, dn","x":3,"y":0.007},{"p":"i8","s":"re, dn","x":4,"y":0.006},{"p":"i8","s":"re, dn","x":5,"y":0.0045},{"p":"i8","s":"re, dn","x":6,"y":0.003},{"p":"i8","s":"re, dn","x":7,"y":0.0015},{"p":"i8","s":"re, dn","x":8,"y":-0.0015},{"p":"i8","s":"re, dn","x":9,"y":-0.002},{"p":"i8","s":"re, dn","x":10,"y":-0.008},{"p":"i8","s":"re, dn","x":11,"y":0.0067},{"p":"i8","s":"re, dn","x":12,"y":0.0009},{"p":"i8","s":"re, dn","x":13,"y":0},{"p":"i8","s":"re, dn","x":14,"y":-0.002},
{"p":"i9","s":"up","x":0,"y":-0.235},{"p":"i9","s":"up","x":1,"y":-0.266},{"p":"i9","s":"up","x":2,"y":-0.262},{"p":"i9","s":"up","x":3,"y":-0.272},{"p":"i9","s":"up","x":4,"y":-0.272},{"p":"i9","s":"up","x":5,"y":-0.272},{"p":"i9","s":"up","x":6,"y":-0.278},{"p":"i9","s":"up","x":7,"y":-0.269},{"p":"i9","s":"up","x":8,"y":-0.282},{"p":"i9","s":"up","x":9,"y":-0.272},{"p":"i9","s":"up","x":10,"y":-0.28},{"p":"i9","s":"up","x":11,"y":-0.276},{"p":"i9","s":"up","x":12,"y":-0.27},{"p":"i9","s":"up","x":13,"y":-0.267},{"p":"i9","s":"up","x":14,"y":-0.272},
{"p":"i9","s":"dn","x":0,"y":-0.235},{"p":"i9","s":"dn","x":1,"y":-0.267},{"p":"i9","s":"dn","x":2,"y":-0.267},{"p":"i9","s":"dn","x":3,"y":-0.276},{"p":"i9","s":"dn","x":4,"y":-0.276},{"p":"i9","s":"dn","x":5,"y":-0.274},{"p":"i9","s":"dn","x":6,"y":-0.276},{"p":"i9","s":"dn","x":7,"y":-0.272},{"p":"i9","s":"dn","x":8,"y":-0.273},{"p":"i9","s":"dn","x":9,"y":-0.274},{"p":"i9","s":"dn","x":10,"y":-0.276},{"p":"i9","s":"dn","x":11,"y":-0.274},{"p":"i9","s":"dn","x":12,"y":-0.272},{"p":"i9","s":"dn","x":13,"y":-0.27},{"p":"i9","s":"dn","x":14,"y":-0.274},
{"p":"i9","s":"re, up","x":0,"y":0.0084},{"p":"i9","s":"re, up","x":1,"y":0.0025},{"p":"i9","s":"re, up","x":2,"y":-0.0034},{"p":"i9","s":"re, up","x":3,"y":-0.014},{"p":"i9","s":"re, up","x":4,"y":-0.006},{"p":"i9","s":"re, up","x":5,"y":-0.006},{"p":"i9","s":"re, up","x":6,"y":-0.0034},{"p":"i9","s":"re, up","x":7,"y":-0.012},{"p":"i9","s":"re, up","x":8,"y":0.0068},{"p":"i9","s":"re, up","x":9,"y":-0.0017},{"p":"i9","s":"re, up","x":10,"y":0.0008},{"p":"i9","s":"re, up","x":11,"y":0.0093},{"p":"i9","s":"re, up","x":12,"y":-0.0017},{"p":"i9","s":"re, up","x":13,"y":0.0008},{"p":"i9","s":"re, up","x":14,"y":0.0025},
{"p":"i9","s":"re, dn","x":0,"y":-0.01},{"p":"i9","s":"re, dn","x":1,"y":-0.0034},{"p":"i9","s":"re, dn","x":2,"y":0.0025},{"p":"i9","s":"re, dn","x":3,"y":0.0135},{"p":"i9","s":"re, dn","x":4,"y":0.0068},{"p":"i9","s":"re, dn","x":5,"y":0.0008},{"p":"i9","s":"re, dn","x":6,"y":-0.0034},{"p":"i9","s":"re, dn","x":7,"y":0.0042},{"p":"i9","s":"re, dn","x":8,"y":-0.006},{"p":"i9","s":"re, dn","x":9,"y":0.0025},{"p":"i9","s":"re, dn","x":10,"y":0.0025},{"p":"i9","s":"re, dn","x":11,"y":-0.0034},{"p":"i9","s":"re, dn","x":12,"y":0.0042},{"p":"i9","s":"re, dn","x":13,"y":-0.0034},{"p":"i9","s":"re, dn","x":14,"y":-0.0017},
{"p":"i10","s":"up","x":0,"y":-0.08},{"p":"i10","s":"up","x":1,"y":-0.091},{"p":"i10","s":"up","x":2,"y":-0.0887},{"p":"i10","s":"up","x":3,"y":-0.0827},{"p":"i10","s":"up","x":4,"y":-0.083},{"p":"i10","s":"up","x":5,"y":-0.089},{"p":"i10","s":"up","x":6,"y":-0.0836},{"p":"i10","s":"up","x":7,"y":-0.091},{"p":"i10","s":"up","x":8,"y":-0.085},{"p":"i10","s":"up","x":9,"y":-0.086},{"p":"i10","s":"up","x":10,"y":-0.0866},{"p":"i10","s":"up","x":11,"y":-0.0887},{"p":"i10","s":"up","x":12,"y":-0.0845},{"p":"i10","s":"up","x":13,"y":-0.0925},{"p":"i10","s":"up","x":14,"y":-0.0866},
{"p":"i10","s":"dn","x":0,"y":-0.0866},{"p":"i10","s":"dn","x":1,"y":-0.089},{"p":"i10","s":"dn","x":2,"y":-0.088},{"p":"i10","s":"dn","x":3,"y":-0.085},{"p":"i10","s":"dn","x":4,"y":-0.0836},{"p":"i10","s":"dn","x":5,"y":-0.0836},{"p":"i10","s":"dn","x":6,"y":-0.088},{"p":"i10","s":"dn","x":7,"y":-0.0952},{"p":"i10","s":"dn","x":8,"y":-0.0875},{"p":"i10","s":"dn","x":9,"y":-0.082},{"p":"i10","s":"dn","x":10,"y":-0.0887},{"p":"i10","s":"dn","x":11,"y":-0.094},{"p":"i10","s":"dn","x":12,"y":-0.085},{"p":"i10","s":"dn","x":13,"y":-0.0887},{"p":"i10","s":"dn","x":14,"y":-0.094},
{"p":"i10","s":"re, up","x":0,"y":0},{"p":"i10","s":"re, up","x":1,"y":-0.0036},{"p":"i10","s":"re, up","x":2,"y":-0.006},{"p":"i10","s":"re, up","x":3,"y":-0.0024},{"p":"i10","s":"re, up","x":4,"y":-0.006},{"p":"i10","s":"re, up","x":5,"y":-0.0036},{"p":"i10","s":"re, up","x":6,"y":-0.0015},{"p":"i10","s":"re, up","x":7,"y":0.0096},{"p":"i10","s":"re, up","x":8,"y":0.003},{"p":"i10","s":"re, up","x":9,"y":0.003},{"p":"i10","s":"re, up","x":10,"y":0.003},{"p":"i10","s":"re, up","x":11,"y":-0.0006},{"p":"i10","s":"re, up","x":12,"y":-0.0039},{"p":"i10","s":"re, up","x":13,"y":0.0054},{"p":"i10","s":"re, up","x":14,"y":-0.0006},
{"p":"i10","s":"re, dn","x":0,"y":-0.0006},{"p":"i10","s":"re, dn","x":1,"y":-0.0024},{"p":"i10","s":"re, dn","x":2,"y":0.008},{"p":"i10","s":"re, dn","x":3,"y":-0.0006},{"p":"i10","s":"re, dn","x":4,"y":0.003},{"p":"i10","s":"re, dn","x":5,"y":0.008},{"p":"i10","s":"re, dn","x":6,"y":0},{"p":"i10","s":"re, dn","x":7,"y":0.0015},{"p":"i10","s":"re, dn","x":8,"y":-0.003},{"p":"i10","s":"re, dn","x":9,"y":-0.0015},{"p":"i10","s":"re, dn","x":10,"y":-0.0045},{"p":"i10","s":"re, dn","x":11,"y":-0.003},{"p":"i10","s":"re, dn","x":12,"y":-0.0006},{"p":"i10","s":"re, dn","x":13,"y":-0.0045},{"p":"i10","s":"re, dn","x":14,"y":0.0015},
{"p":"i11","s":"up","x":0,"y":-0.2395},{"p":"i11","s":"up","x":1,"y":-0.2655},{"p":"i11","s":"up","x":2,"y":-0.27},{"p":"i11","s":"up","x":3,"y":-0.271},{"p":"i11","s":"up","x":4,"y":-0.274},{"p":"i11","s":"up","x":5,"y":-0.274},{"p":"i11","s":"up","x":6,"y":-0.28},{"p":"i11","s":"up","x":7,"y":-0.271},{"p":"i11","s":"up","x":8,"y":-0.269},{"p":"i11","s":"up","x":9,"y":-0.277},{"p":"i11","s":"up","x":10,"y":-0.2756},{"p":"i11","s":"up","x":11,"y":-0.274},{"p":"i11","s":"up","x":12,"y":-0.274},{"p":"i11","s":"up","x":13,"y":-0.274},{"p":"i11","s":"up","x":14,"y":-0.269},
{"p":"i11","s":"dn","x":0,"y":-0.236},{"p":"i11","s":"dn","x":1,"y":-0.265},{"p":"i11","s":"dn","x":2,"y":-0.269},{"p":"i11","s":"dn","x":3,"y":-0.271},{"p":"i11","s":"dn","x":4,"y":-0.273},{"p":"i11","s":"dn","x":5,"y":-0.269},{"p":"i11","s":"dn","x":6,"y":-0.274},{"p":"i11","s":"dn","x":7,"y":-0.274},{"p":"i11","s":"dn","x":8,"y":-0.2756},{"p":"i11","s":"dn","x":9,"y":-0.28},{"p":"i11","s":"dn","x":10,"y":-0.28},{"p":"i11","s":"dn","x":11,"y":-0.2756},{"p":"i11","s":"dn","x":12,"y":-0.271},{"p":"i11","s":"dn","x":13,"y":-0.271},{"p":"i11","s":"dn","x":14,"y":-0.278},
{"p":"i11","s":"re, up","x":0,"y":0},{"p":"i11","s":"re, up","x":1,"y":0.006},{"p":"i11","s":"re, up","x":2,"y":0.004},{"p":"i11","s":"re, up","x":3,"y":0.0017},{"p":"i11","s":"re, up","x":4,"y":0},{"p":"i11","s":"re, up","x":5,"y":0.0126},{"p":"i11","s":"re, up","x":6,"y":0.006},{"p":"i11","s":"re, up","x":7,"y":0.006},{"p":"i11","s":"re, up","x":8,"y":0.004},{"p":"i11","s":"re, up","x":9,"y":-0.004},{"p":"i11","s":"re, up","x":10,"y":0.0034},{"p":"i11","s":"re, up","x":11,"y":0.004},{"p":"i11","s":"re, up","x":12,"y":-0.004},{"p":"i11","s":"re, up","x":13,"y":0.004},{"p":"i11","s":"re, up","x":14,"y":0},
{"p":"i11","s":"re, dn","x":0,"y":0.0076},{"p":"i11","s":"re, dn","x":1,"y":-0.0025},{"p":"i11","s":"re, dn","x":2,"y":-0.0067},{"p":"i11","s":"re, dn","x":3,"y":0.0017},{"p":"i11","s":"re, dn","x":4,"y":0.004},{"p":"i11","s":"re, dn","x":5,"y":-0.0084},{"p":"i11","s":"re, dn","x":6,"y":-0.0008},{"p":"i11","s":"re, dn","x":7,"y":0.0034},{"p":"i11","s":"re, dn","x":8,"y":0.0017},{"p":"i11","s":"re, dn","x":9,"y":0},{"p":"i11","s":"re, dn","x":10,"y":0.004},{"p":"i11","s":"re, dn","x":11,"y":-0.0025},{"p":"i11","s":"re, dn","x":12,"y":0.0084},{"p":"i11","s":"re, dn","x":13,"y":0},{"p":"i11","s":"re, dn","x":14,"y":0},
{"p":"i12","s":"up","x":0,"y":-0.0883},{"p":"i12","s":"up","x":1,"y":-0.0892},{"p":"i12","s":"up","x":2,"y":-0.0892},{"p":"i12","s":"up","x":3,"y":-0.0863},{"p":"i12","s":"up","x":4,"y":-0.0915},{"p":"i12","s":"up","x":5,"y":-0.0883},{"p":"i12","s":"up","x":6,"y":-0.0829},{"p":"i12","s":"up","x":7,"y":-0.0855},{"p":"i12","s":"up","x":8,"y":-0.092},{"p":"i12","s":"up","x":9,"y":-0.0849},{"p":"i12","s":"up","x":10,"y":-0.0812},{"p":"i12","s":"up","x":11,"y":-0.0877},{"p":"i12","s":"up","x":12,"y":-0.0892},{"p":"i12","s":"up","x":13,"y":-0.0772},{"p":"i12","s":"up","x":14,"y":-0.082},
{"p":"i12","s":"dn","x":0,"y":-0.0883},{"p":"i12","s":"dn","x":1,"y":-0.0849},{"p":"i12","s":"dn","x":2,"y":-0.0872},{"p":"i12","s":"dn","x":3,"y":-0.0883},{"p":"i12","s":"dn","x":4,"y":-0.092},{"p":"i12","s":"dn","x":5,"y":-0.0863},{"p":"i12","s":"dn","x":6,"y":-0.0883},{"p":"i12","s":"dn","x":7,"y":-0.084},{"p":"i12","s":"dn","x":8,"y":-0.082},{"p":"i12","s":"dn","x":9,"y":-0.0883},{"p":"i12","s":"dn","x":10,"y":-0.0812},{"p":"i12","s":"dn","x":11,"y":-0.0877},{"p":"i12","s":"dn","x":12,"y":-0.0897},{"p":"i12","s":"dn","x":13,"y":-0.0858},{"p":"i12","s":"dn","x":14,"y":-0.0892},
{"p":"i12","s":"re, up","x":0,"y":0},{"p":"i12","s":"re, up","x":1,"y":0.0011},{"p":"i12","s":"re, up","x":2,"y":-0.0017},{"p":"i12","s":"re, up","x":3,"y":0.0034},{"p":"i12","s":"re, up","x":4,"y":0.0028},{"p":"i12","s":"re, up","x":5,"y":0.0006},{"p":"i12","s":"re, up","x":6,"y":0.0054},{"p":"i12","s":"re, up","x":7,"y":-0.0009},{"p":"i12","s":"re, up","x":8,"y":0.0006},{"p":"i12","s":"re, up","x":9,"y":0.0057},{"p":"i12","s":"re, up","x":10,"y":-0.0003},{"p":"i12","s":"re, up","x":11,"y":0.0048},{"p":"i12","s":"re, up","x":12,"y":0.0054},{"p":"i12","s":"re, up","x":13,"y":0.0011},{"p":"i12","s":"re, up","x":14,"y":0.0011},
{"p":"i12","s":"re, dn","x":0,"y":-0.0009},{"p":"i12","s":"re, dn","x":1,"y":0.0006},{"p":"i12","s":"re, dn","x":2,"y":0.0028},{"p":"i12","s":"re, dn","x":3,"y":0},{"p":"i12","s":"re, dn","x":4,"y":0.0006},{"p":"i12","s":"re, dn","x":5,"y":-0.0051},{"p":"i12","s":"re, dn","x":6,"y":0.0028},{"p":"i12","s":"re, dn","x":7,"y":-0.0003},{"p":"i12","s":"re, dn","x":8,"y":0},{"p":"i12","s":"re, dn","x":9,"y":0.0006},{"p":"i12","s":"re, dn","x":10,"y":-0.0028},{"p":"i12","s":"re, dn","x":11,"y":0.002},{"p":"i12","s":"re, dn","x":12,"y":0.0006},{"p":"i12","s":"re, dn","x":13,"y":0.0068},{"p":"i12","s":"re, dn","x":14,"y":0.0048},
{"p":"i13","s":"up","x":0,"y":-0.2445},{"p":"i13","s":"up","x":1,"y":-0.265},{"p":"i13","s":"up","x":2,"y":-0.273},{"p":"i13","s":"up","x":3,"y":-0.265},{"p":"i13","s":"up","x":4,"y":-0.2324},{"p":"i13","s":"up","x":5,"y":-0.184},{"p":"i13","s":"up","x":6,"y":-0.139},{"p":"i13","s":"up","x":7,"y":-0.095},{"p":"i13","s":"up","x":8,"y":-0.0705},{"p":"i13","s":"up","x":9,"y":-0.0607},{"p":"i13","s":"up","x":10,"y":-0.0583},{"p":"i13","s":"up","x":11,"y":-0.0526},{"p":"i13","s":"up","x":12,"y":-0.0543},{"p":"i13","s":"up","x":13,"y":-0.0567},{"p":"i13","s":"up","x":14,"y":-0.056},
{"p":"i13","s":"dn","x":0,"y":-0.2445},{"p":"i13","s":"dn","x":1,"y":-0.2607},{"p":"i13","s":"dn","x":2,"y":-0.2688},{"p":"i13","s":"dn","x":3,"y":-0.265},{"p":"i13","s":"dn","x":4,"y":-0.2365},{"p":"i13","s":"dn","x":5,"y":-0.188},{"p":"i13","s":"dn","x":6,"y":-0.143},{"p":"i13","s":"dn","x":7,"y":-0.099},{"p":"i13","s":"dn","x":8,"y":-0.073},{"p":"i13","s":"dn","x":9,"y":-0.064},{"p":"i13","s":"dn","x":10,"y":-0.0583},{"p":"i13","s":"dn","x":11,"y":-0.056},{"p":"i13","s":"dn","x":12,"y":-0.0543},{"p":"i13","s":"dn","x":13,"y":-0.056},{"p":"i13","s":"dn","x":14,"y":-0.0583},
{"p":"i13","s":"re, up","x":0,"y":0.0065},{"p":"i13","s":"re, up","x":1,"y":-0.0097},{"p":"i13","s":"re, up","x":2,"y":0.0008},{"p":"i13","s":"re, up","x":3,"y":-0.0016},{"p":"i13","s":"re, up","x":4,"y":-0.004},{"p":"i13","s":"re, up","x":5,"y":0.0065},{"p":"i13","s":"re, up","x":6,"y":-0.0016},{"p":"i13","s":"re, up","x":7,"y":0.0024},{"p":"i13","s":"re, up","x":8,"y":-0.0016},{"p":"i13","s":"re, up","x":9,"y":0.009},{"p":"i13","s":"re, up","x":10,"y":-0.0073},{"p":"i13","s":"re, up","x":11,"y":-0.0032},{"p":"i13","s":"re, up","x":12,"y":0.0008},{"p":"i13","s":"re, up","x":13,"y":0.0065},{"p":"i13","s":"re, up","x":14,"y":-0.0057},
{"p":"i13","s":"re, dn","x":0,"y":-0.0057},{"p":"i13","s":"re, dn","x":1,"y":0.0008},{"p":"i13","s":"re, dn","x":2,"y":-0.0097},{"p":"i13","s":"re, dn","x":3,"y":0},{"p":"i13","s":"re, dn","x":4,"y":0.0024},{"p":"i13","s":"re, dn","x":5,"y":0},{"p":"i13","s":"re, dn","x":6,"y":0.0008},{"p":"i13","s":"re, dn","x":7,"y":-0.0016},{"p":"i13","s":"re, dn","x":8,"y":-0.0032},{"p":"i13","s":"re, dn","x":9,"y":0},{"p":"i13","s":"re, dn","x":10,"y":-0.0016},{"p":"i13","s":"re, dn","x":11,"y":-0.0057},{"p":"i13","s":"re, dn","x":12,"y":-0.0032},{"p":"i13","s":"re, dn","x":13,"y":0},{"p":"i13","s":"re, dn","x":14,"y":-0.004}
],
"bt":[
{"p":"b0","s":"a","v":1.05,"y":0},{"p":"b0","s":"a","v":1.06,"y":0},{"p":"b0","s":"a","v":1.065,"y":0},{"p":"b0","s":"a","v":1.07,"y":0.0125},{"p":"b0","s":"a","v":1.072,"y":0.025},{"p":"b0","s":"a","v":1.0735,"y":0.034},{"p":"b0","s":"a","v":1.0742,"y":0.006},{"p":"b0","s":"a","v":1.075,"y":0.0045},{"p":"b0","s":"a","v":1.1,"y":1.279},
{"p":"b0","s":"b","v":1.05,"y":0},{"p":"b0","s":"b","v":1.06,"y":0},{"p":"b0","s":"b","v":1.065,"y":0},{"p":"b0","s":"b","v":1.07,"y":0.013},{"p":"b0","s":"b","v":1.072,"y":0.012},{"p":"b0","s":"b","v":1.0735,"y":0.006},{"p":"b0","s":"b","v":1.0742,"y":0.0075},{"p":"b0","s":"b","v":1.075,"y":0.022},{"p":"b0","s":"b","v":1.1,"y":0},
{"p":"b1","s":"a","v":1.05,"y":0},{"p":"b1","s":"a","v":1.06,"y":0},{"p":"b1","s":"a","v":1.065,"y":0},{"p":"b1","s":"a","v":1.07,"y":0.516},{"p":"b1","s":"a","v":1.072,"y":0.525},{"p":"b1","s":"a","v":1.0735,"y":0.516},{"p":"b1","s":"a","v":1.0742,"y":0.52},{"p":"b1","s":"a","v":1.075,"y":0.52},{"p":"b1","s":"a","v":1.1,"y":0.61},
{"p":"b2","s":"a","v":1.05,"y":0},{"p":"b2","s":"a","v":1.06,"y":0.276},{"p":"b2","s":"a","v":1.065,"y":0.994},{"p":"b2","s":"a","v":1.07,"y":1.118},{"p":"b2","s":"a","v":1.072,"y":1.145},{"p":"b2","s":"a","v":1.0735,"y":1.155},{"p":"b2","s":"a","v":1.0742,"y":1.148},{"p":"b2","s":"a","v":1.075,"y":1.175},{"p":"b2","s":"a","v":1.1,"y":0},
{"p":"b2","s":"b","v":1.05,"y":0.013},{"p":"b2","s":"b","v":1.06,"y":0.012},{"p":"b2","s":"b","v":1.065,"y":0.005},{"p":"b2","s":"b","v":1.07,"y":0},{"p":"b2","s":"b","v":1.072,"y":0},{"p":"b2","s":"b","v":1.0735,"y":0},{"p":"b2","s":"b","v":1.0742,"y":0},{"p":"b2","s":"b","v":1.075,"y":0},{"p":"b2","s":"b","v":1.1,"y":0},
{"p":"b3","s":"a","v":1.05,"y":0.553},{"p":"b3","s":"a","v":1.06,"y":0.527},{"p":"b3","s":"a","v":1.065,"y":0.532},{"p":"b3","s":"a","v":1.07,"y":0.563},{"p":"b3","s":"a","v":1.072,"y":0.563},{"p":"b3","s":"a","v":1.0735,"y":0.555},{"p":"b3","s":"a","v":1.0742,"y":0.563},{"p":"b3","s":"a","v":1.075,"y":0.56},{"p":"b3","s":"a","v":1.1,"y":0}
]
},
"concat":[
{"data":{"name":"e"},"mark":{"type":"point","opacity":0},"encoding":{"x":{"field":"x","type":"quantitative","scale":{"domain":[0,1],"nice":false},"axis":{"values":[0,0.5,1],"format":".1f","title":null}},"y":{"field":"y","type":"quantitative","scale":{"domain":[0,1],"nice":false},"axis":{"values":[0,0.2,0.4,0.6,0.8,1],"format":".1f","title":null}}}},
{"data":{"name":"e"},"mark":{"type":"point","opacity":0},"encoding":{"x":{"field":"x","type":"quantitative","scale":{"domain":[0,1],"nice":false},"axis":{"values":[0,0.5,1],"format":".1f","title":null}},"y":{"field":"y","type":"quantitative","scale":{"domain":[0,1],"nice":false},"axis":{"values":[0,0.2,0.4,0.6,0.8,1],"format":".1f","title":null}}}},
{"title":"β = 5, V = 1.05","encoding":{"color":{"field":"s","type":"nominal","scale":{"domain":["AFM","CO"],"range":["#ff2a00","#0a8ed6"]},"legend":{"title":null,"orient":"top-right","symbolType":"M-2.3,0H-1.19M0.88,0H1.99M0.66,0A0.66,0.66,0,1,1,-0.66,0A0.66,0.66,0,1,1,0.66,0Z","symbolStrokeWidth":1.5,"symbolOffset":5.5,"labelOffset":16,"rowPadding":3.6,"encode":{"symbols":{"update":{"fill":{"signal":"datum.value === 'AFM' ? '#ff2a00' : '#0a8ed6'"},"stroke":{"signal":"datum.value === 'AFM' ? '#ff2a00' : '#0a8ed6'"},"strokeDash":{"value":[1,0]},"opacity":{"value":1},"size":{"value":100}}}}}}},"layer":[
{"data":{"name":"op"},"transform":[{"filter":{"field":"p","equal":"o0"}}],"mark":{"type":"line","strokeWidth":1.7,"strokeDash":[6,2.6],"point":{"filled":true,"size":36,"opacity":1}},"encoding":{"x":{"field":"x","type":"quantitative","scale":{"padding":4.3,"nice":false,"zero":false},"axis":{"values":[0,10],"format":"d","title":"Iteration"}},"y":{"field":"y","type":"quantitative","scale":{"padding":5.8,"nice":false,"zero":false},"axis":{"values":[0,0.25,0.5,0.75,1],"format":".2f","title":"Order Params"}}}},
{"data":{"name":"oh"},"transform":[{"filter":{"field":"p","equal":"o0"}}],"mark":{"type":"rule","strokeWidth":1.7},"encoding":{"y":{"field":"y","type":"quantitative"}}}]},
{"data":{"name":"im"},"transform":[{"filter":{"field":"p","equal":"i0"}}],"mark":{"type":"line","strokeWidth":1.7},"encoding":{"x":{"field":"x","type":"quantitative","scale":{"padding":4.3,"nice":false,"zero":false},"axis":{"values":[0,10],"format":"d","title":"Iteration"}},"y":{"field":"y","type":"quantitative","scale":{"padding":5.8,"nice":false,"zero":false},"axis":{"values":[0,-0.1,-0.2],"format":".1f","title":"ImΣ(iω₀, k₀)"}},"color":{"field":"s","type":"nominal","scale":{"domain":["up","dn","re, up","re, dn"],"range":["#1f77b4","#ff7f0e","#2ca02c","#d62728"]},"legend":{"title":null,"orient":"none","legendX":24,"legendY":32}}}},
{"data":{"name":"e"},"mark":{"type":"point","opacity":0},"encoding":{"x":{"field":"x","type":"quantitative","scale":{"domain":[0,1],"nice":false},"axis":{"values":[0,0.5,1],"format":".1f","title":null}},"y":{"field":"y","type":"quantitative","scale":{"domain":[0,1],"nice":false},"axis":{"values":[0,0.2,0.4,0.6,0.8,1],"format":".1f","title":null}}}},
{"data":{"name":"e"},"mark":{"type":"point","opacity":0},"encoding":{"x":{"field":"x","type":"quantitative","scale":{"domain":[0,1],"nice":false},"axis":{"values":[0,0.5,1],"format":".1f","title":null}},"y":{"field":"y","type":"quantitative","scale":{"domain":[0,1],"nice":false},"axis":{"values":[0,0.2,0.4,0.6,0.8,1],"format":".1f","title":null}}}},
{"title":"β = 5, V = 1.06","encoding":{"color":{"field":"s","type":"nominal","scale":{"domain":["AFM","CO"],"range":["#ff2a00","#0a8ed6"]},"legend":{"title":null,"orient":"none","legendX":5,"legendY":46,"symbolType":"M-2.3,0H-1.19M0.88,0H1.99M0.66,0A0.66,0.66,0,1,1,-0.66,0A0.66,0.66,0,1,1,0.66,0Z","symbolStrokeWidth":1.5,"symbolOffset":5.5,"labelOffset":16,"rowPadding":3.6,"encode":{"symbols":{"update":{"fill":{"signal":"datum.value === 'AFM' ? '#ff2a00' : '#0a8ed6'"},"stroke":{"signal":"datum.value === 'AFM' ? '#ff2a00' : '#0a8ed6'"},"strokeDash":{"value":[1,0]},"opacity":{"value":1},"size":{"value":100}}}}}}},"layer":[
{"data":{"name":"op"},"transform":[{"filter":{"field":"p","equal":"o1"}}],"mark":{"type":"line","strokeWidth":1.7,"strokeDash":[6,2.6],"point":{"filled":true,"size":36,"opacity":1}},"encoding":{"x":{"field":"x","type":"quantitative","scale":{"padding":4.3,"nice":false,"zero":false},"axis":{"values":[0,10],"format":"d","title":"Iteration"}},"y":{"field":"y","type":"quantitative","scale":{"padding":5.8,"nice":false,"zero":false},"axis":{"values":[0,0.25,0.5,0.75,1],"format":".2f","title":"Order Params"}}}},
{"data":{"name":"oh"},"transform":[{"filter":{"field":"p","equal":"o1"}}],"mark":{"type":"rule","strokeWidth":1.7},"encoding":{"y":{"field":"y","type":"quantitative"}}}]},
{"data":{"name":"im"},"transform":[{"filter":{"field":"p","equal":"i1"}}],"mark":{"type":"line","strokeWidth":1.7},"encoding":{"x":{"field":"x","type":"quantitative","scale":{"padding":4.3,"nice":false,"zero":false},"axis":{"values":[0,10],"format":"d","title":"Iteration"}},"y":{"field":"y","type":"quantitative","scale":{"padding":5.8,"nice":false,"zero":false},"axis":{"values":[0,-0.1,-0.2],"format":".1f","title":"ImΣ(iω₀, k₀)"}},"color":{"field":"s","type":"nominal","scale":{"domain":["up","dn","re, up","re, dn"],"range":["#1f77b4","#ff7f0e","#2ca02c","#d62728"]},"legend":{"title":null,"orient":"none","legendX":24,"legendY":32}}}},
{"data":{"name":"e"},"mark":{"type":"point","opacity":0},"encoding":{"x":{"field":"x","type":"quantitative","scale":{"domain":[0,1],"nice":false},"axis":{"values":[0,0.5,1],"format":".1f","title":null}},"y":{"field":"y","type":"quantitative","scale":{"domain":[0,1],"nice":false},"axis":{"values":[0,0.2,0.4,0.6,0.8,1],"format":".1f","title":null}}}},
{"data":{"name":"e"},"mark":{"type":"point","opacity":0},"encoding":{"x":{"field":"x","type":"quantitative","scale":{"domain":[0,1],"nice":false},"axis":{"values":[0,0.5,1],"format":".1f","title":null}},"y":{"field":"y","type":"quantitative","scale":{"domain":[0,1],"nice":false},"axis":{"values":[0,0.2,0.4,0.6,0.8,1],"format":".1f","title":null}}}},
{"title":"β = 5, V = 1.065","encoding":{"color":{"field":"s","type":"nominal","scale":{"domain":["AFM","CO"],"range":["#ff2a00","#0a8ed6"]},"legend":{"title":null,"orient":"none","legendX":33,"legendY":46,"symbolType":"M-2.3,0H-1.19M0.88,0H1.99M0.66,0A0.66,0.66,0,1,1,-0.66,0A0.66,0.66,0,1,1,0.66,0Z","symbolStrokeWidth":1.5,"symbolOffset":5.5,"labelOffset":16,"rowPadding":3.6,"encode":{"symbols":{"update":{"fill":{"signal":"datum.value === 'AFM' ? '#ff2a00' : '#0a8ed6'"},"stroke":{"signal":"datum.value === 'AFM' ? '#ff2a00' : '#0a8ed6'"},"strokeDash":{"value":[1,0]},"opacity":{"value":1},"size":{"value":100}}}}}}},"layer":[
{"data":{"name":"op"},"transform":[{"filter":{"field":"p","equal":"o2"}}],"mark":{"type":"line","strokeWidth":1.7,"strokeDash":[6,2.6],"point":{"filled":true,"size":36,"opacity":1}},"encoding":{"x":{"field":"x","type":"quantitative","scale":{"padding":4.3,"nice":false,"zero":false},"axis":{"values":[0,10],"format":"d","title":"Iteration"}},"y":{"field":"y","type":"quantitative","scale":{"padding":5.8,"nice":false,"zero":false},"axis":{"values":[0,0.25,0.5,0.75,1],"format":".2f","title":"Order Params"}}}},
{"data":{"name":"oh"},"transform":[{"filter":{"field":"p","equal":"o2"}}],"mark":{"type":"rule","strokeWidth":1.7},"encoding":{"y":{"field":"y","type":"quantitative"}}}]},
{"data":{"name":"im"},"transform":[{"filter":{"field":"p","equal":"i2"}}],"mark":{"type":"line","strokeWidth":1.7},"encoding":{"x":{"field":"x","type":"quantitative","scale":{"padding":4.3,"nice":false,"zero":false},"axis":{"values":[0,10],"format":"d","title":"Iteration"}},"y":{"field":"y","type":"quantitative","scale":{"padding":5.8,"nice":false,"zero":false},"axis":{"values":[0,-0.05,-0.1],"format":".2f","title":"ImΣ(iω₀, k₀)"}},"color":{"field":"s","type":"nominal","scale":{"domain":["up","dn","re, up","re, dn"],"range":["#1f77b4","#ff7f0e","#2ca02c","#d62728"]},"legend":{"title":null,"orient":"none","legendX":24,"legendY":32}}}},
{"title":"β = 5, V = 1.07","encoding":{"color":{"field":"s","type":"nominal","scale":{"domain":["AFM","CO"],"range":["#ff2a00","#0a8ed6"]},"legend":{"title":null,"orient":"top-right","symbolType":"M-2.3,0H-1.19M0.88,0H1.99M0.66,0A0.66,0.66,0,1,1,-0.66,0A0.66,0.66,0,1,1,0.66,0Z","symbolStrokeWidth":1.5,"symbolOffset":5.5,"labelOffset":16,"rowPadding":3.6,"encode":{"symbols":{"update":{"fill":{"signal":"datum.value === 'AFM' ? '#ff2a00' : '#0a8ed6'"},"stroke":{"signal":"datum.value === 'AFM' ? '#ff2a00' : '#0a8ed6'"},"strokeDash":{"value":[1,0]},"opacity":{"value":1},"size":{"value":100}}}}}}},"layer":[
{"data":{"name":"op"},"transform":[{"filter":{"field":"p","equal":"o3"}}],"mark":{"type":"line","strokeWidth":1.7,"strokeDash":[6,2.6],"point":{"filled":true,"size":36,"opacity":1}},"encoding":{"x":{"field":"x","type":"quantitative","scale":{"padding":4.3,"nice":false,"zero":false},"axis":{"values":[0,10],"format":"d","title":"Iteration"}},"y":{"field":"y","type":"quantitative","scale":{"padding":5.8,"nice":false,"zero":false},"axis":{"values":[0,0.1,0.2],"format":".1f","title":"Order Params"}}}},
{"data":{"name":"oh"},"transform":[{"filter":{"field":"p","equal":"o3"}}],"mark":{"type":"rule","strokeWidth":1.7},"encoding":{"y":{"field":"y","type":"quantitative"}}}]},
{"data":{"name":"im"},"transform":[{"filter":{"field":"p","equal":"i3"}}],"mark":{"type":"line","strokeWidth":1.7},"encoding":{"x":{"field":"x","type":"quantitative","scale":{"padding":4.3,"nice":false,"zero":false},"axis":{"values":[0,10],"format":"d","title":"Iteration"}},"y":{"field":"y","type":"quantitative","scale":{"padding":5.8,"nice":false,"zero":false},"axis":{"values":[0,-0.1,-0.2],"format":".1f","title":"ImΣ(iω₀, k₀)"}},"color":{"field":"s","type":"nominal","scale":{"domain":["up","dn","re, up","re, dn"],"range":["#1f77b4","#ff7f0e","#2ca02c","#d62728"]},"legend":{"title":null,"orient":"none","legendX":24,"legendY":32}}}},
{"title":"β = 5, V = 1.07","encoding":{"color":{"field":"s","type":"nominal","scale":{"domain":["AFM","CO"],"range":["#ff2a00","#0a8ed6"]},"legend":{"title":null,"orient":"none","legendX":33,"legendY":46,"symbolType":"M-2.3,0H-1.19M0.88,0H1.99M0.66,0A0.66,0.66,0,1,1,-0.66,0A0.66,0.66,0,1,1,0.66,0Z","symbolStrokeWidth":1.5,"symbolOffset":5.5,"labelOffset":16,"rowPadding":3.6,"encode":{"symbols":{"update":{"fill":{"signal":"datum.value === 'AFM' ? '#ff2a00' : '#0a8ed6'"},"stroke":{"signal":"datum.value === 'AFM' ? '#ff2a00' : '#0a8ed6'"},"strokeDash":{"value":[1,0]},"opacity":{"value":1},"size":{"value":100}}}}}}},"layer":[
{"data":{"name":"op"},"transform":[{"filter":{"field":"p","equal":"o4"}}],"mark":{"type":"line","strokeWidth":1.7,"strokeDash":[6,2.6],"point":{"filled":true,"size":36,"opacity":1}},"encoding":{"x":{"field":"x","type":"quantitative","scale":{"padding":4.3,"nice":false,"zero":false},"axis":{"values":[0,10],"format":"d","title":"Iteration"}},"y":{"field":"y","type":"quantitative","scale":{"padding":5.8,"nice":false,"zero":false},"axis":{"values":[0,0.25,0.5,0.75,1],"format":".2f","title":"Order Params"}}}},
{"data":{"name":"oh"},"transform":[{"filter":{"field":"p","equal":"o4"}}],"mark":{"type":"rule","strokeWidth":1.7},"encoding":{"y":{"field":"y","type":"quantitative"}}}]},
{"data":{"name":"im"},"transform":[{"filter":{"field":"p","equal":"i4"}}],"mark":{"type":"line","strokeWidth":1.7},"encoding":{"x":{"field":"x","type":"quantitative","scale":{"padding":4.3,"nice":false,"zero":false},"axis":{"values":[0,10],"format":"d","title":"Iteration"}},"y":{"field":"y","type":"quantitative","scale":{"padding":5.8,"nice":false,"zero":false},"axis":{"values":[0,-0.05,-0.1],"format":".2f","title":"ImΣ(iω₀, k₀)"}},"color":{"field":"s","type":"nominal","scale":{"domain":["up","dn","re, up","re, dn"],"range":["#1f77b4","#ff7f0e","#2ca02c","#d62728"]},"legend":{"title":null,"orient":"none","legendX":24,"legendY":32}}}},
{"title":"β = 5, V = 1.072","encoding":{"color":{"field":"s","type":"nominal","scale":{"domain":["AFM","CO"],"range":["#ff2a00","#0a8ed6"]},"legend":{"title":null,"orient":"top-right","symbolType":"M-2.3,0H-1.19M0.88,0H1.99M0.66,0A0.66,0.66,0,1,1,-0.66,0A0.66,0.66,0,1,1,0.66,0Z","symbolStrokeWidth":1.5,"symbolOffset":5.5,"labelOffset":16,"rowPadding":3.6,"encode":{"symbols":{"update":{"fill":{"signal":"datum.value === 'AFM' ? '#ff2a00' : '#0a8ed6'"},"stroke":{"signal":"datum.value === 'AFM' ? '#ff2a00' : '#0a8ed6'"},"strokeDash":{"value":[1,0]},"opacity":{"value":1},"size":{"value":100}}}}}}},"layer":[
{"data":{"name":"op"},"transform":[{"filter":{"field":"p","equal":"o5"}}],"mark":{"type":"line","strokeWidth":1.7,"strokeDash":[6,2.6],"point":{"filled":true,"size":36,"opacity":1}},"encoding":{"x":{"field":"x","type":"quantitative","scale":{"padding":4.3,"nice":false,"zero":false},"axis":{"values":[0,10],"format":"d","title":"Iteration"}},"y":{"field":"y","type":"quantitative","scale":{"padding":5.8,"nice":false,"zero":false},"axis":{"values":[0,0.1,0.2],"format":".1f","title":"Order Params"}}}},
{"data":{"name":"oh"},"transform":[{"filter":{"field":"p","equal":"o5"}}],"mark":{"type":"rule","strokeWidth":1.7},"encoding":{"y":{"field":"y","type":"quantitative"}}}]},
{"data":{"name":"im"},"transform":[{"filter":{"field":"p","equal":"i5"}}],"mark":{"type":"line","strokeWidth":1.7},"encoding":{"x":{"field":"x","type":"quantitative","scale":{"padding":4.3,"nice":false,"zero":false},"axis":{"values":[0,10],"format":"d","title":"Iteration"}},"y":{"field":"y","type":"quantitative","scale":{"padding":5.8,"nice":false,"zero":false},"axis":{"values":[0,-0.1,-0.2,-0.3],"format":".1f","title":"ImΣ(iω₀, k₀)"}},"color":{"field":"s","type":"nominal","scale":{"domain":["up","dn","re, up","re, dn"],"range":["#1f77b4","#ff7f0e","#2ca02c","#d62728"]},"legend":{"title":null,"orient":"none","legendX":24,"legendY":32}}}},
{"title":"β = 5, V = 1.072","encoding":{"color":{"field":"s","type":"nominal","scale":{"domain":["AFM","CO"],"range":["#ff2a00","#0a8ed6"]},"legend":{"title":null,"orient":"none","legendX":33,"legendY":46,"symbolType":"M-2.3,0H-1.19M0.88,0H1.99M0.66,0A0.66,0.66,0,1,1,-0.66,0A0.66,0.66,0,1,1,0.66,0Z","symbolStrokeWidth":1.5,"symbolOffset":5.5,"labelOffset":16,"rowPadding":3.6,"encode":{"symbols":{"update":{"fill":{"signal":"datum.value === 'AFM' ? '#ff2a00' : '#0a8ed6'"},"stroke":{"signal":"datum.value === 'AFM' ? '#ff2a00' : '#0a8ed6'"},"strokeDash":{"value":[1,0]},"opacity":{"value":1},"size":{"value":100}}}}}}},"layer":[
{"data":{"name":"op"},"transform":[{"filter":{"field":"p","equal":"o6"}}],"mark":{"type":"line","strokeWidth":1.7,"strokeDash":[6,2.6],"point":{"filled":true,"size":36,"opacity":1}},"encoding":{"x":{"field":"x","type":"quantitative","scale":{"padding":4.3,"nice":false,"zero":false},"axis":{"values":[0,10],"format":"d","title":"Iteration"}},"y":{"field":"y","type":"quantitative","scale":{"padding":5.8,"nice":false,"zero":false},"axis":{"values":[0,0.5,1],"format":".1f","title":"Order Params"}}}},
{"data":{"name":"oh"},"transform":[{"filter":{"field":"p","equal":"o6"}}],"mark":{"type":"rule","strokeWidth":1.7},"encoding":{"y":{"field":"y","type":"quantitative"}}}]},
{"data":{"name":"im"},"transform":[{"filter":{"field":"p","equal":"i6"}}],"mark":{"type":"line","strokeWidth":1.7},"encoding":{"x":{"field":"x","type":"quantitative","scale":{"padding":4.3,"nice":false,"zero":false},"axis":{"values":[0,10],"format":"d","title":"Iteration"}},"y":{"field":"y","type":"quantitative","scale":{"padding":5.8,"nice":false,"zero":false},"axis":{"values":[0,-0.025,-0.05,-0.075,-0.1],"format":".3f","title":"ImΣ(iω₀, k₀)"}},"color":{"field":"s","type":"nominal","scale":{"domain":["up","dn","re, up","re, dn"],"range":["#1f77b4","#ff7f0e","#2ca02c","#d62728"]},"legend":{"title":null,"orient":"none","legendX":24,"legendY":32}}}},
{"title":"β = 5, V = 1.0735","encoding":{"color":{"field":"s","type":"nominal","scale":{"domain":["AFM","CO"],"range":["#ff2a00","#0a8ed6"]},"legend":{"title":null,"orient":"top-right","symbolType":"M-2.3,0H-1.19M0.88,0H1.99M0.66,0A0.66,0.66,0,1,1,-0.66,0A0.66,0.66,0,1,1,0.66,0Z","symbolStrokeWidth":1.5,"symbolOffset":5.5,"labelOffset":16,"rowPadding":3.6,"encode":{"symbols":{"update":{"fill":{"signal":"datum.value === 'AFM' ? '#ff2a00' : '#0a8ed6'"},"stroke":{"signal":"datum.value === 'AFM' ? '#ff2a00' : '#0a8ed6'"},"strokeDash":{"value":[1,0]},"opacity":{"value":1},"size":{"value":100}}}}}}},"layer":[
{"data":{"name":"op"},"transform":[{"filter":{"field":"p","equal":"o7"}}],"mark":{"type":"line","strokeWidth":1.7,"strokeDash":[6,2.6],"point":{"filled":true,"size":36,"opacity":1}},"encoding":{"x":{"field":"x","type":"quantitative","scale":{"padding":4.3,"nice":false,"zero":false},"axis":{"values":[0,10],"format":"d","title":"Iteration"}},"y":{"field":"y","type":"quantitative","scale":{"padding":5.8,"nice":false,"zero":false},"axis":{"values":[0,0.1,0.2],"format":".1f","title":"Order Params"}}}},
{"data":{"name":"oh"},"transform":[{"filter":{"field":"p","equal":"o7"}}],"mark":{"type":"rule","strokeWidth":1.7},"encoding":{"y":{"field":"y","type":"quantitative"}}}]},
{"data":{"name":"im"},"transform":[{"filter":{"field":"p","equal":"i7"}}],"mark":{"type":"line","strokeWidth":1.7},"encoding":{"x":{"field":"x","type":"quantitative","scale":{"padding":4.3,"nice":false,"zero":false},"axis":{"values":[0,10],"format":"d","title":"Iteration"}},"y":{"field":"y","type":"quantitative","scale":{"padding":5.8,"nice":false,"zero":false},"axis":{"values":[0,-0.1,-0.2],"format":".1f","title":"ImΣ(iω₀, k₀)"}},"color":{"field":"s","type":"nominal","scale":{"domain":["up","dn","re, up","re, dn"],"range":["#1f77b4","#ff7f0e","#2ca02c","#d62728"]},"legend":{"title":null,"orient":"none","legendX":24,"legendY":32}}}},
{"title":"β = 5, V = 1.0735","encoding":{"color":{"field":"s","type":"nominal","scale":{"domain":["AFM","CO"],"range":["#ff2a00","#0a8ed6"]},"legend":{"title":null,"orient":"none","legendX":33,"legendY":46,"symbolType":"M-2.3,0H-1.19M0.88,0H1.99M0.66,0A0.66,0.66,0,1,1,-0.66,0A0.66,0.66,0,1,1,0.66,0Z","symbolStrokeWidth":1.5,"symbolOffset":5.5,"labelOffset":16,"rowPadding":3.6,"encode":{"symbols":{"update":{"fill":{"signal":"datum.value === 'AFM' ? '#ff2a00' : '#0a8ed6'"},"stroke":{"signal":"datum.value === 'AFM' ? '#ff2a00' : '#0a8ed6'"},"strokeDash":{"value":[1,0]},"opacity":{"value":1},"size":{"value":100}}}}}}},"layer":[
{"data":{"name":"op"},"transform":[{"filter":{"field":"p","equal":"o8"}}],"mark":{"type":"line","strokeWidth":1.7,"strokeDash":[6,2.6],"point":{"filled":true,"size":36,"opacity":1}},"encoding":{"x":{"field":"x","type":"quantitative","scale":{"padding":4.3,"nice":false,"zero":false},"axis":{"values":[0,10],"format":"d","title":"Iteration"}},"y":{"field":"y","type":"quantitative","scale":{"padding":5.8,"nice":false,"zero":false},"axis":{"values":[0,0.5,1],"format":".1f","title":"Order Params"}}}},
{"data":{"name":"oh"},"transform":[{"filter":{"field":"p","equal":"o8"}}],"mark":{"type":"rule","strokeWidth":1.7},"encoding":{"y":{"field":"y","type":"quantitative"}}}]},
{"data":{"name":"im"},"transform":[{"filter":{"field":"p","equal":"i8"}}],"mark":{"type":"line","strokeWidth":1.7},"encoding":{"x":{"field":"x","type":"quantitative","scale":{"padding":4.3,"nice":false,"zero":false},"axis":{"values":[0,10],"format":"d","title":"Iteration"}},"y":{"field":"y","type":"quantitative","scale":{"padding":5.8,"nice":false,"zero":false},"axis":{"values":[0,-0.025,-0.05,-0.075,-0.1],"format":".3f","title":"ImΣ(iω₀, k₀)"}},"color":{"field":"s","type":"nominal","scale":{"domain":["up","dn","re, up","re, dn"],"range":["#1f77b4","#ff7f0e","#2ca02c","#d62728"]},"legend":{"title":null,"orient":"none","legendX":24,"legendY":32}}}},
{"title":"β = 5, V = 1.0742","encoding":{"color":{"field":"s","type":"nominal","scale":{"domain":["AFM","CO"],"range":["#ff2a00","#0a8ed6"]},"legend":{"title":null,"orient":"top-right","symbolType":"M-2.3,0H-1.19M0.88,0H1.99M0.66,0A0.66,0.66,0,1,1,-0.66,0A0.66,0.66,0,1,1,0.66,0Z","symbolStrokeWidth":1.5,"symbolOffset":5.5,"labelOffset":16,"rowPadding":3.6,"encode":{"symbols":{"update":{"fill":{"signal":"datum.value === 'AFM' ? '#ff2a00' : '#0a8ed6'"},"stroke":{"signal":"datum.value === 'AFM' ? '#ff2a00' : '#0a8ed6'"},"strokeDash":{"value":[1,0]},"opacity":{"value":1},"size":{"value":100}}}}}}},"layer":[
{"data":{"name":"op"},"transform":[{"filter":{"field":"p","equal":"o9"}}],"mark":{"type":"line","strokeWidth":1.7,"strokeDash":[6,2.6],"point":{"filled":true,"size":36,"opacity":1}},"encoding":{"x":{"field":"x","type":"quantitative","scale":{"padding":4.3,"nice":false,"zero":false},"axis":{"values":[0,10],"format":"d","title":"Iteration"}},"y":{"field":"y","type":"quantitative","scale":{"padding":5.8,"nice":false,"zero":false},"axis":{"values":[0,0.1,0.2],"format":".1f","title":"Order Params"}}}},
{"data":{"name":"oh"},"transform":[{"filter":{"field":"p","equal":"o9"}}],"mark":{"type":"rule","strokeWidth":1.7},"encoding":{"y":{"field":"y","type":"quantitative"}}}]},
{"data":{"name":"im"},"transform":[{"filter":{"field":"p","equal":"i9"}}],"mark":{"type":"line","strokeWidth":1.7},"encoding":{"x":{"field":"x","type":"quantitative","scale":{"padding":4.3,"nice":false,"zero":false},"axis":{"values":[0,10],"format":"d","title":"Iteration"}},"y":{"field":"y","type":"quantitative","scale":{"padding":5.8,"nice":false,"zero":false},"axis":{"values":[0,-0.1,-0.2],"format":".1f","title":"ImΣ(iω₀, k₀)"}},"color":{"field":"s","type":"nominal","scale":{"domain":["up","dn","re, up","re, dn"],"range":["#1f77b4","#ff7f0e","#2ca02c","#d62728"]},"legend":{"title":null,"orient":"none","legendX":24,"legendY":32}}}},
{"title":"β = 5, V = 1.0742","encoding":{"color":{"field":"s","type":"nominal","scale":{"domain":["AFM","CO"],"range":["#ff2a00","#0a8ed6"]},"legend":{"title":null,"orient":"none","legendX":33,"legendY":46,"symbolType":"M-2.3,0H-1.19M0.88,0H1.99M0.66,0A0.66,0.66,0,1,1,-0.66,0A0.66,0.66,0,1,1,0.66,0Z","symbolStrokeWidth":1.5,"symbolOffset":5.5,"labelOffset":16,"rowPadding":3.6,"encode":{"symbols":{"update":{"fill":{"signal":"datum.value === 'AFM' ? '#ff2a00' : '#0a8ed6'"},"stroke":{"signal":"datum.value === 'AFM' ? '#ff2a00' : '#0a8ed6'"},"strokeDash":{"value":[1,0]},"opacity":{"value":1},"size":{"value":100}}}}}}},"layer":[
{"data":{"name":"op"},"transform":[{"filter":{"field":"p","equal":"o10"}}],"mark":{"type":"line","strokeWidth":1.7,"strokeDash":[6,2.6],"point":{"filled":true,"size":36,"opacity":1}},"encoding":{"x":{"field":"x","type":"quantitative","scale":{"padding":4.3,"nice":false,"zero":false},"axis":{"values":[0,10],"format":"d","title":"Iteration"}},"y":{"field":"y","type":"quantitative","scale":{"padding":5.8,"nice":false,"zero":false},"axis":{"values":[0,0.5,1],"format":".1f","title":"Order Params"}}}},
{"data":{"name":"oh"},"transform":[{"filter":{"field":"p","equal":"o10"}}],"mark":{"type":"rule","strokeWidth":1.7},"encoding":{"y":{"field":"y","type":"quantitative"}}}]},
{"data":{"name":"im"},"transform":[{"filter":{"field":"p","equal":"i10"}}],"mark":{"type":"line","strokeWidth":1.7},"encoding":{"x":{"field":"x","type":"quantitative","scale":{"padding":4.3,"nice":false,"zero":false},"axis":{"values":[0,10],"format":"d","title":"Iteration"}},"y":{"field":"y","type":"quantitative","scale":{"padding":5.8,"nice":false,"zero":false},"axis":{"values":[0,-0.025,-0.05,-0.075,-0.1],"format":".3f","title":"ImΣ(iω₀, k₀)"}},"color":{"field":"s","type":"nominal","scale":{"domain":["up","dn","re, up","re, dn"],"range":["#1f77b4","#ff7f0e","#2ca02c","#d62728"]},"legend":{"title":null,"orient":"none","legendX":24,"legendY":32}}}},
{"title":"β = 5, V = 1.075","encoding":{"color":{"field":"s","type":"nominal","scale":{"domain":["AFM","CO"],"range":["#ff2a00","#0a8ed6"]},"legend":{"title":null,"orient":"top-right","symbolType":"M-2.3,0H-1.19M0.88,0H1.99M0.66,0A0.66,0.66,0,1,1,-0.66,0A0.66,0.66,0,1,1,0.66,0Z","symbolStrokeWidth":1.5,"symbolOffset":5.5,"labelOffset":16,"rowPadding":3.6,"encode":{"symbols":{"update":{"fill":{"signal":"datum.value === 'AFM' ? '#ff2a00' : '#0a8ed6'"},"stroke":{"signal":"datum.value === 'AFM' ? '#ff2a00' : '#0a8ed6'"},"strokeDash":{"value":[1,0]},"opacity":{"value":1},"size":{"value":100}}}}}}},"layer":[
{"data":{"name":"op"},"transform":[{"filter":{"field":"p","equal":"o11"}}],"mark":{"type":"line","strokeWidth":1.7,"strokeDash":[6,2.6],"point":{"filled":true,"size":36,"opacity":1}},"encoding":{"x":{"field":"x","type":"quantitative","scale":{"padding":4.3,"nice":false,"zero":false},"axis":{"values":[0,10],"format":"d","title":"Iteration"}},"y":{"field":"y","type":"quantitative","scale":{"padding":5.8,"nice":false,"zero":false},"axis":{"values":[0,0.1,0.2],"format":".1f","title":"Order Params"}}}},
{"data":{"name":"oh"},"transform":[{"filter":{"field":"p","equal":"o11"}}],"mark":{"type":"rule","strokeWidth":1.7},"encoding":{"y":{"field":"y","type":"quantitative"}}}]},
{"data":{"name":"im"},"transform":[{"filter":{"field":"p","equal":"i11"}}],"mark":{"type":"line","strokeWidth":1.7},"encoding":{"x":{"field":"x","type":"quantitative","scale":{"padding":4.3,"nice":false,"zero":false},"axis":{"values":[0,10],"format":"d","title":"Iteration"}},"y":{"field":"y","type":"quantitative","scale":{"padding":5.8,"nice":false,"zero":false},"axis":{"values":[0,-0.1,-0.2],"format":".1f","title":"ImΣ(iω₀, k₀)"}},"color":{"field":"s","type":"nominal","scale":{"domain":["up","dn","re, up","re, dn"],"range":["#1f77b4","#ff7f0e","#2ca02c","#d62728"]},"legend":{"title":null,"orient":"none","legendX":24,"legendY":32}}}},
{"title":"β = 5, V = 1.075","encoding":{"color":{"field":"s","type":"nominal","scale":{"domain":["AFM","CO"],"range":["#ff2a00","#0a8ed6"]},"legend":{"title":null,"orient":"none","legendX":33,"legendY":46,"symbolType":"M-2.3,0H-1.19M0.88,0H1.99M0.66,0A0.66,0.66,0,1,1,-0.66,0A0.66,0.66,0,1,1,0.66,0Z","symbolStrokeWidth":1.5,"symbolOffset":5.5,"labelOffset":16,"rowPadding":3.6,"encode":{"symbols":{"update":{"fill":{"signal":"datum.value === 'AFM' ? '#ff2a00' : '#0a8ed6'"},"stroke":{"signal":"datum.value === 'AFM' ? '#ff2a00' : '#0a8ed6'"},"strokeDash":{"value":[1,0]},"opacity":{"value":1},"size":{"value":100}}}}}}},"layer":[
{"data":{"name":"op"},"transform":[{"filter":{"field":"p","equal":"o12"}}],"mark":{"type":"line","strokeWidth":1.7,"strokeDash":[6,2.6],"point":{"filled":true,"size":36,"opacity":1}},"encoding":{"x":{"field":"x","type":"quantitative","scale":{"padding":4.3,"nice":false,"zero":false},"axis":{"values":[0,10],"format":"d","title":"Iteration"}},"y":{"field":"y","type":"quantitative","scale":{"padding":5.8,"nice":false,"zero":false},"axis":{"values":[0,0.5,1],"format":".1f","title":"Order Params"}}}},
{"data":{"name":"oh"},"transform":[{"filter":{"field":"p","equal":"o12"}}],"mark":{"type":"rule","strokeWidth":1.7},"encoding":{"y":{"field":"y","type":"quantitative"}}}]},
{"data":{"name":"im"},"transform":[{"filter":{"field":"p","equal":"i12"}}],"mark":{"type":"line","strokeWidth":1.7},"encoding":{"x":{"field":"x","type":"quantitative","scale":{"padding":4.3,"nice":false,"zero":false},"axis":{"values":[0,10],"format":"d","title":"Iteration"}},"y":{"field":"y","type":"quantitative","scale":{"padding":5.8,"nice":false,"zero":false},"axis":{"values":[0,-0.025,-0.05,-0.075],"format":".3f","title":"ImΣ(iω₀, k₀)"}},"color":{"field":"s","type":"nominal","scale":{"domain":["up","dn","re, up","re, dn"],"range":["#1f77b4","#ff7f0e","#2ca02c","#d62728"]},"legend":{"title":null,"orient":"none","legendX":24,"legendY":32}}}},
{"title":"β = 5, V = 1.1","encoding":{"color":{"field":"s","type":"nominal","scale":{"domain":["AFM","CO"],"range":["#ff2a00","#0a8ed6"]},"legend":{"title":null,"orient":"none","legendX":33,"legendY":46,"symbolType":"M-2.3,0H-1.19M0.88,0H1.99M0.66,0A0.66,0.66,0,1,1,-0.66,0A0.66,0.66,0,1,1,0.66,0Z","symbolStrokeWidth":1.5,"symbolOffset":5.5,"labelOffset":16,"rowPadding":3.6,"encode":{"symbols":{"update":{"fill":{"signal":"datum.value === 'AFM' ? '#ff2a00' : '#0a8ed6'"},"stroke":{"signal":"datum.value === 'AFM' ? '#ff2a00' : '#0a8ed6'"},"strokeDash":{"value":[1,0]},"opacity":{"value":1},"size":{"value":100}}}}}}},"layer":[
{"data":{"name":"op"},"transform":[{"filter":{"field":"p","equal":"o13"}}],"mark":{"type":"line","strokeWidth":1.7,"strokeDash":[6,2.6],"point":{"filled":true,"size":36,"opacity":1}},"encoding":{"x":{"field":"x","type":"quantitative","scale":{"padding":4.3,"nice":false,"zero":false},"axis":{"values":[0,10],"format":"d","title":"Iteration"}},"y":{"field":"y","type":"quantitative","scale":{"padding":5.8,"nice":false,"zero":false},"axis":{"values":[0,0.5,1],"format":".1f","title":"Order Params"}}}},
{"data":{"name":"oh"},"transform":[{"filter":{"field":"p","equal":"o13"}}],"mark":{"type":"rule","strokeWidth":1.7},"encoding":{"y":{"field":"y","type":"quantitative"}}}]},
{"data":{"name":"im"},"transform":[{"filter":{"field":"p","equal":"i13"}}],"mark":{"type":"line","strokeWidth":1.7},"encoding":{"x":{"field":"x","type":"quantitative","scale":{"padding":4.3,"nice":false,"zero":false},"axis":{"values":[0,10],"format":"d","title":"Iteration"}},"y":{"field":"y","type":"quantitative","scale":{"padding":5.8,"nice":false,"zero":false},"axis":{"values":[0,-0.1,-0.2],"format":".1f","title":"ImΣ(iω₀, k₀)"}},"color":{"field":"s","type":"nominal","scale":{"domain":["up","dn","re, up","re, dn"],"range":["#1f77b4","#ff7f0e","#2ca02c","#d62728"]},"legend":{"title":null,"orient":"bottom-right"}}}},
{"data":{"name":"e"},"mark":{"type":"point","opacity":0},"encoding":{"x":{"field":"x","type":"quantitative","scale":{"domain":[0,1],"nice":false},"axis":{"values":[0,0.5,1],"format":".1f","title":null}},"y":{"field":"y","type":"quantitative","scale":{"domain":[0,1],"nice":false},"axis":{"values":[0,0.2,0.4,0.6,0.8,1],"format":".1f","title":null}}}},
{"data":{"name":"e"},"mark":{"type":"point","opacity":0},"encoding":{"x":{"field":"x","type":"quantitative","scale":{"domain":[0,1],"nice":false},"axis":{"values":[0,0.5,1],"format":".1f","title":null}},"y":{"field":"y","type":"quantitative","scale":{"domain":[0,1],"nice":false},"axis":{"values":[0,0.2,0.4,0.6,0.8,1],"format":".1f","title":null}}}},
{"data":{"name":"bt"},"transform":[{"filter":{"field":"p","equal":"b0"}}],"mark":{"type":"line","strokeWidth":1.7},"encoding":{"x":{"field":"v","type":"quantitative","scale":{"padding":4.3,"nice":false,"zero":false},"axis":{"values":[1.05,1.1],"format":".2f","title":null}},"y":{"field":"y","type":"quantitative","scale":{"padding":5.8,"nice":false,"zero":false},"axis":{"values":[0,0.5,1],"format":".1f","title":null}},"color":{"field":"s","type":"nominal","scale":{"domain":["a","b"],"range":["#1f77b4","#ff7f0e"]},"legend":null}}},
{"data":{"name":"bt"},"transform":[{"filter":{"field":"p","equal":"b1"}}],"mark":{"type":"line","strokeWidth":1.7},"encoding":{"x":{"field":"v","type":"quantitative","scale":{"padding":4.3,"nice":false,"zero":false},"axis":{"values":[1.05,1.1],"format":".2f","title":null}},"y":{"field":"y","type":"quantitative","scale":{"padding":5.8,"nice":false,"zero":false},"axis":{"values":[0,0.2,0.4,0.6],"format":".1f","title":null}},"color":{"field":"s","type":"nominal","scale":{"domain":["a","b"],"range":["#1f77b4","#ff7f0e"]},"legend":null}}},
{"data":{"name":"bt"},"transform":[{"filter":{"field":"p","equal":"b2"}}],"mark":{"type":"line","strokeWidth":1.7},"encoding":{"x":{"field":"v","type":"quantitative","scale":{"padding":4.3,"nice":false,"zero":false},"axis":{"values":[1.05,1.1],"format":".2f","title":null}},"y":{"field":"y","type":"quantitative","scale":{"padding":5.8,"nice":false,"zero":false},"axis":{"values":[0,0.5,1],"format":".1f","title":null}},"color":{"field":"s","type":"nominal","scale":{"domain":["a","b"],"range":["#1f77b4","#ff7f0e"]},"legend":null}}},
{"data":{"name":"bt"},"transform":[{"filter":{"field":"p","equal":"b3"}}],"mark":{"type":"line","strokeWidth":1.7},"encoding":{"x":{"field":"v","type":"quantitative","scale":{"padding":4.3,"nice":false,"zero":false},"axis":{"values":[1.05,1.1],"format":".2f","title":null}},"y":{"field":"y","type":"quantitative","scale":{"padding":5.8,"nice":false,"zero":false},"axis":{"values":[0,0.2,0.4],"format":".1f","title":null}},"color":{"field":"s","type":"nominal","scale":{"domain":["a","b"],"range":["#1f77b4","#ff7f0e"]},"legend":null}}}
]
}
